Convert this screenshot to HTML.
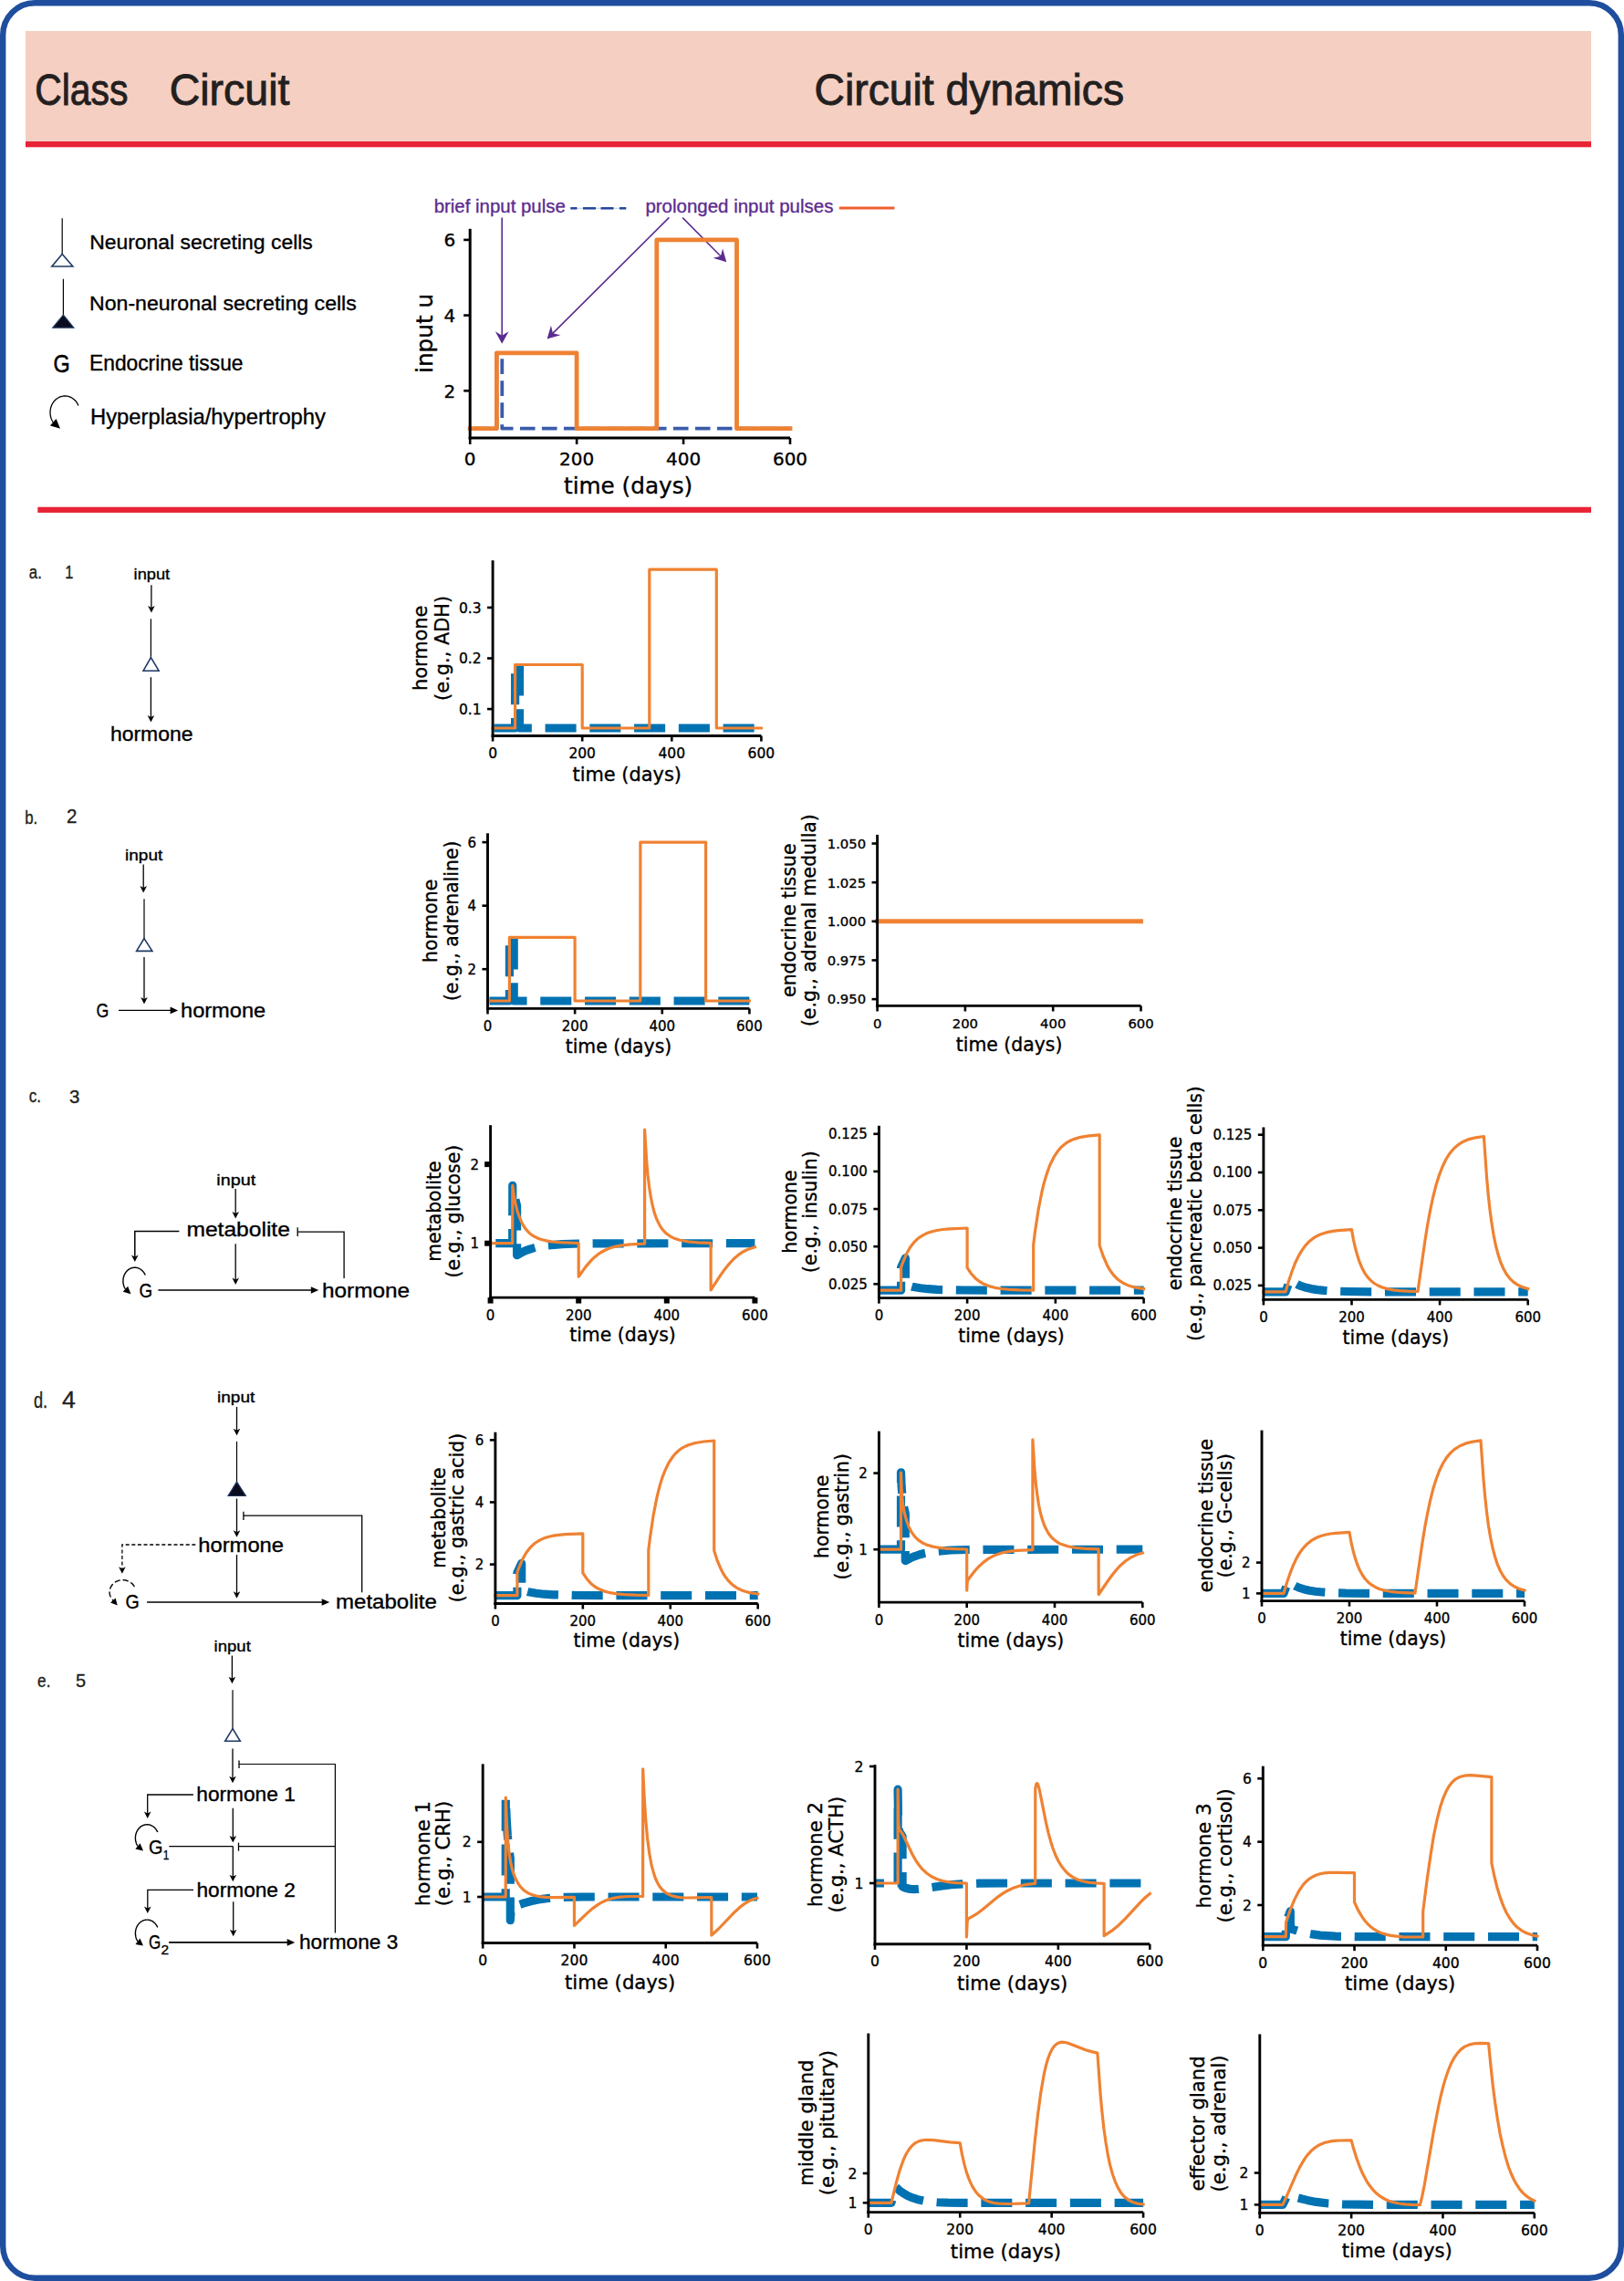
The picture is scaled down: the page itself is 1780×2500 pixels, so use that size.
<!DOCTYPE html>
<html><head><meta charset="utf-8"><title>Endocrine circuit dynamics</title>
<style>html,body{margin:0;padding:0;background:#fff;} svg{display:block;}</style></head>
<body><svg width="1780" height="2500" viewBox="0 0 1780 2500">
<rect width="1780" height="2500" fill="#fff"/>
<rect x="28" y="34" width="1716" height="121.5" fill="#F5CFC2"/>
<rect x="28" y="155" width="1716" height="6.3" fill="#E82336"/>
<text x="38.2" y="114.7" font-family="'Liberation Sans', 'DejaVu Sans', sans-serif" font-size="47.5" fill="#231F20" textLength="102.3" lengthAdjust="spacingAndGlyphs" stroke="#231F20" stroke-width="0.9">Class</text>
<text x="185.7" y="114.7" font-family="'Liberation Sans', 'DejaVu Sans', sans-serif" font-size="47.5" fill="#231F20" textLength="131.8" lengthAdjust="spacingAndGlyphs" stroke="#231F20" stroke-width="0.9">Circuit</text>
<text x="892.5" y="114.7" font-family="'Liberation Sans', 'DejaVu Sans', sans-serif" font-size="47.5" fill="#231F20" textLength="339.6" lengthAdjust="spacingAndGlyphs" stroke="#231F20" stroke-width="0.9">Circuit dynamics</text>
<rect x="41.3" y="555.7" width="1702.7" height="6.2" fill="#E82336"/>
<line x1="68.2" y1="239.2" x2="68.2" y2="279" stroke="#000" stroke-width="1.2"/>
<polygon points="68.2,278.4 79.8,292 56.8,292" fill="#fff" stroke="#1F3864" stroke-width="1.6"/>
<text x="98.2" y="273.4" font-family="'Liberation Sans', 'DejaVu Sans', sans-serif" font-size="22.8" fill="#000" textLength="244.6" lengthAdjust="spacingAndGlyphs" stroke="#000" stroke-width="0.35">Neuronal secreting cells</text>
<line x1="69.4" y1="305.7" x2="69.4" y2="346" stroke="#000" stroke-width="1.2"/>
<polygon points="69.4,345.2 80.8,359.2 57.8,359.2" fill="#0B0B1E" stroke="#1F3864" stroke-width="1.2"/>
<text x="98" y="340" font-family="'Liberation Sans', 'DejaVu Sans', sans-serif" font-size="22.8" fill="#000" textLength="292.8" lengthAdjust="spacingAndGlyphs" stroke="#000" stroke-width="0.35">Non-neuronal secreting cells</text>
<text x="58.6" y="408.4" font-family="'Liberation Sans', 'DejaVu Sans', sans-serif" font-size="27.6" fill="#000" textLength="18.2" lengthAdjust="spacingAndGlyphs" stroke="#000" stroke-width="0.5">G</text>
<text x="98" y="406" font-family="'Liberation Sans', 'DejaVu Sans', sans-serif" font-size="23.6" fill="#000" textLength="168.5" lengthAdjust="spacingAndGlyphs" stroke="#000" stroke-width="0.35">Endocrine tissue</text>
<polyline points="85.89,444.42 85.38,443.3 84.8,442.22 84.15,441.19 83.44,440.21 82.68,439.29 81.85,438.44 80.97,437.64 80.05,436.92 79.08,436.27 78.07,435.7 77.03,435.21 75.96,434.8 74.87,434.47 73.76,434.23 72.64,434.07 71.51,434 70.38,434.02 69.25,434.13 68.14,434.32 67.03,434.61 65.95,434.97 64.9,435.42 63.87,435.95 62.88,436.55 61.93,437.24 61.03,437.99 60.17,438.81 59.37,439.7 58.63,440.65 57.95,441.65 57.33,442.7 56.78,443.8 56.3,444.94 55.89,446.11 55.56,447.31 55.3,448.53 55.12,449.78 55.02,451.03 55,452.28 55.06,453.54 55.2,454.78 55.41,456.02 55.7,457.23 56.07,458.42 56.51,459.58 57.02,460.7 57.6,461.78 58.25,462.81" fill="none" stroke="#000" stroke-width="1.3"/>
<polygon points="66,469.7 54.92,466.54 61.57,459.07" fill="#000"/>
<text x="99" y="465" font-family="'Liberation Sans', 'DejaVu Sans', sans-serif" font-size="24.6" fill="#000" textLength="258" lengthAdjust="spacingAndGlyphs" stroke="#000" stroke-width="0.35">Hyperplasia/hypertrophy</text>
<text x="475.7" y="232.9" font-family="'Liberation Sans', 'DejaVu Sans', sans-serif" font-size="21" fill="#5B2C8F" textLength="144.1" lengthAdjust="spacingAndGlyphs" stroke="#5B2C8F" stroke-width="0.35">brief input pulse</text>
<line x1="625.3" y1="228.3" x2="686.3" y2="228.3" stroke="#A9B9DC" stroke-width="0.7"/>
<line x1="625.3" y1="228.3" x2="632.5" y2="228.3" stroke="#22449A" stroke-width="2.5"/>
<line x1="639" y1="228.3" x2="653" y2="228.3" stroke="#22449A" stroke-width="2.5"/>
<line x1="658.5" y1="228.3" x2="672.5" y2="228.3" stroke="#22449A" stroke-width="2.5"/>
<line x1="679" y1="228.3" x2="686.3" y2="228.3" stroke="#22449A" stroke-width="2.5"/>
<text x="707.4" y="232.9" font-family="'Liberation Sans', 'DejaVu Sans', sans-serif" font-size="21" fill="#5B2C8F" textLength="206" lengthAdjust="spacingAndGlyphs" stroke="#5B2C8F" stroke-width="0.35">prolonged input pulses</text>
<line x1="919.8" y1="228.1" x2="980.4" y2="228.1" stroke="#EF6030" stroke-width="3"/>
<line x1="550.2" y1="238.4" x2="550.2" y2="368.7" stroke="#5B2C8F" stroke-width="1.6"/>
<polygon points="550.2,376.8 542.8,363.3 550.2,367.8 557.6,363.3" fill="#5B2C8F"/>
<line x1="733.4" y1="238.4" x2="605.34" y2="365.89" stroke="#5B2C8F" stroke-width="1.6"/>
<polygon points="599.6,371.6 603.95,356.83 605.98,365.25 614.39,367.32" fill="#5B2C8F"/>
<line x1="748.2" y1="238.6" x2="790.6" y2="281.44" stroke="#5B2C8F" stroke-width="1.6"/>
<polygon points="796.3,287.2 781.54,282.81 789.97,280.8 792.06,272.4" fill="#5B2C8F"/>
<text x="31.8" y="634" font-family="'Liberation Sans', 'DejaVu Sans', sans-serif" font-size="19.5" fill="#231F20" textLength="14" lengthAdjust="spacingAndGlyphs" stroke="#231F20" stroke-width="0.35">a.</text>
<text x="71.2" y="634" font-family="'Liberation Sans', 'DejaVu Sans', sans-serif" font-size="20.5" fill="#231F20" textLength="9.1" lengthAdjust="spacingAndGlyphs" stroke="#231F20" stroke-width="0.35">1</text>
<text x="27.2" y="903.1" font-family="'Liberation Sans', 'DejaVu Sans', sans-serif" font-size="19.5" fill="#231F20" textLength="14" lengthAdjust="spacingAndGlyphs" stroke="#231F20" stroke-width="0.35">b.</text>
<text x="72.9" y="901.5" font-family="'Liberation Sans', 'DejaVu Sans', sans-serif" font-size="21.5" fill="#231F20" textLength="11.4" lengthAdjust="spacingAndGlyphs" stroke="#231F20" stroke-width="0.35">2</text>
<text x="31.7" y="1207.7" font-family="'Liberation Sans', 'DejaVu Sans', sans-serif" font-size="19.5" fill="#231F20" textLength="13.3" lengthAdjust="spacingAndGlyphs" stroke="#231F20" stroke-width="0.35">c.</text>
<text x="75.9" y="1209.1" font-family="'Liberation Sans', 'DejaVu Sans', sans-serif" font-size="20.6" fill="#231F20" textLength="11.4" lengthAdjust="spacingAndGlyphs" stroke="#231F20" stroke-width="0.35">3</text>
<text x="36.9" y="1542.9" font-family="'Liberation Sans', 'DejaVu Sans', sans-serif" font-size="23" fill="#231F20" textLength="15.2" lengthAdjust="spacingAndGlyphs" stroke="#231F20" stroke-width="0.35">d.</text>
<text x="68" y="1542.9" font-family="'Liberation Sans', 'DejaVu Sans', sans-serif" font-size="25.9" fill="#231F20" textLength="14.8" lengthAdjust="spacingAndGlyphs" stroke="#231F20" stroke-width="0.35">4</text>
<text x="41.1" y="1848.8" font-family="'Liberation Sans', 'DejaVu Sans', sans-serif" font-size="19.5" fill="#231F20" textLength="14.3" lengthAdjust="spacingAndGlyphs" stroke="#231F20" stroke-width="0.35">e.</text>
<text x="83" y="1848.8" font-family="'Liberation Sans', 'DejaVu Sans', sans-serif" font-size="21" fill="#231F20" textLength="11.1" lengthAdjust="spacingAndGlyphs" stroke="#231F20" stroke-width="0.35">5</text>
<text x="146.6" y="635.1" font-family="'Liberation Sans', 'DejaVu Sans', sans-serif" font-size="17" fill="#000" textLength="39.6" lengthAdjust="spacingAndGlyphs" stroke="#000" stroke-width="0.35">input</text>
<line x1="165.9" y1="641.3" x2="165.9" y2="666.45" stroke="#000" stroke-width="1.3"/>
<polygon points="165.9,671.4 162.1,663.9 165.9,665.9 169.7,663.9" fill="#000"/>
<line x1="165.4" y1="678.2" x2="165.4" y2="721" stroke="#000" stroke-width="1.2"/>
<polygon points="165.4,720.7 174.1,735.2 157.1,735.2" fill="#fff" stroke="#1F3864" stroke-width="1.6"/>
<line x1="165.4" y1="742.2" x2="165.4" y2="786.55" stroke="#000" stroke-width="1.3"/>
<polygon points="165.4,791.5 161.6,784 165.4,786 169.2,784" fill="#000"/>
<text x="120.9" y="811.8" font-family="'Liberation Sans', 'DejaVu Sans', sans-serif" font-size="22" fill="#000" textLength="90.6" lengthAdjust="spacingAndGlyphs" stroke="#000" stroke-width="0.35">hormone</text>
<text x="137" y="942.9" font-family="'Liberation Sans', 'DejaVu Sans', sans-serif" font-size="17" fill="#000" textLength="41.3" lengthAdjust="spacingAndGlyphs" stroke="#000" stroke-width="0.35">input</text>
<line x1="157.2" y1="947.4" x2="157.2" y2="973.45" stroke="#000" stroke-width="1.3"/>
<polygon points="157.2,978.4 153.4,970.9 157.2,972.9 161,970.9" fill="#000"/>
<line x1="158" y1="985.3" x2="158" y2="1029" stroke="#000" stroke-width="1.2"/>
<polygon points="158,1028.6 166.9,1042.4 149.6,1042.4" fill="#fff" stroke="#1F3864" stroke-width="1.6"/>
<line x1="158" y1="1048.9" x2="158" y2="1095.55" stroke="#000" stroke-width="1.3"/>
<polygon points="158,1100.5 154.2,1093 158,1095 161.8,1093" fill="#000"/>
<text x="105.4" y="1114.9" font-family="'Liberation Sans', 'DejaVu Sans', sans-serif" font-size="22" fill="#000" textLength="13.8" lengthAdjust="spacingAndGlyphs" stroke="#000" stroke-width="0.35">G</text>
<line x1="130" y1="1107.4" x2="187.45" y2="1107.4" stroke="#000" stroke-width="1.3"/>
<polygon points="195.1,1107.4 186.6,1111.2 186.6,1107.4 186.6,1103.6" fill="#000"/>
<text x="198" y="1114.9" font-family="'Liberation Sans', 'DejaVu Sans', sans-serif" font-size="22" fill="#000" textLength="93.2" lengthAdjust="spacingAndGlyphs" stroke="#000" stroke-width="0.35">hormone</text>
<text x="237.3" y="1298.8" font-family="'Liberation Sans', 'DejaVu Sans', sans-serif" font-size="17" fill="#000" textLength="42.9" lengthAdjust="spacingAndGlyphs" stroke="#000" stroke-width="0.35">input</text>
<line x1="258.2" y1="1303" x2="258.2" y2="1330.55" stroke="#000" stroke-width="1.3"/>
<polygon points="258.2,1335.5 254.4,1328 258.2,1330 262,1328" fill="#000"/>
<text x="204.4" y="1355.4" font-family="'Liberation Sans', 'DejaVu Sans', sans-serif" font-size="22" fill="#000" textLength="113.5" lengthAdjust="spacingAndGlyphs" stroke="#000" stroke-width="0.35">metabolite</text>
<line x1="326.2" y1="1345.3" x2="326.2" y2="1355" stroke="#000" stroke-width="1.3"/>
<polyline points="326.2,1350.1 377.1,1350.1 377.1,1401" fill="none" stroke="#000" stroke-width="1.3"/>
<polyline points="196.4,1349.5 147.8,1349.5 147.8,1378" fill="none" stroke="#000" stroke-width="1.5"/>
<polygon points="147.8,1383 144,1375.5 147.8,1377.5 151.6,1375.5" fill="#000"/>
<line x1="258.2" y1="1363.3" x2="258.2" y2="1403.15" stroke="#000" stroke-width="1.3"/>
<polygon points="258.2,1408.1 254.4,1400.6 258.2,1402.6 262,1400.6" fill="#000"/>
<polyline points="159.23,1397.58 158.82,1396.67 158.35,1395.8 157.84,1394.96 157.27,1394.17 156.65,1393.42 156,1392.73 155.3,1392.09 154.57,1391.51 153.8,1390.99 153.01,1390.53 152.18,1390.14 151.34,1389.81 150.48,1389.55 149.61,1389.36 148.72,1389.25 147.83,1389.2 146.95,1389.23 146.06,1389.32 145.18,1389.49 144.32,1389.73 143.47,1390.03 142.64,1390.41 141.84,1390.84 141.06,1391.35 140.32,1391.91 139.61,1392.53 138.94,1393.21 138.31,1393.94 137.73,1394.72 137.2,1395.54 136.71,1396.4 136.28,1397.3 135.91,1398.24 135.59,1399.2 135.33,1400.18 135.13,1401.18 135,1402.2 134.92,1403.22 134.9,1404.25 134.95,1405.28 135.06,1406.3 135.22,1407.31 135.45,1408.3 135.74,1409.27 136.09,1410.22 136.49,1411.14 136.94,1412.02 137.45,1412.87" fill="none" stroke="#000" stroke-width="1.4"/>
<polygon points="143.5,1418.2 134.81,1415.87 140.1,1409.87" fill="#000"/>
<text x="152.5" y="1422.4" font-family="'Liberation Sans', 'DejaVu Sans', sans-serif" font-size="22" fill="#000" textLength="14.6" lengthAdjust="spacingAndGlyphs" stroke="#000" stroke-width="0.35">G</text>
<line x1="173.4" y1="1414" x2="341.65" y2="1414" stroke="#000" stroke-width="1.3"/>
<polygon points="349.3,1414 340.8,1417.8 340.8,1414 340.8,1410.2" fill="#000"/>
<text x="353" y="1422.4" font-family="'Liberation Sans', 'DejaVu Sans', sans-serif" font-size="22" fill="#000" textLength="96.1" lengthAdjust="spacingAndGlyphs" stroke="#000" stroke-width="0.35">hormone</text>
<text x="238" y="1537" font-family="'Liberation Sans', 'DejaVu Sans', sans-serif" font-size="17" fill="#000" textLength="41.3" lengthAdjust="spacingAndGlyphs" stroke="#000" stroke-width="0.35">input</text>
<line x1="259.5" y1="1542" x2="259.5" y2="1568.35" stroke="#000" stroke-width="1.3"/>
<polygon points="259.5,1573.3 255.7,1565.8 259.5,1567.8 263.3,1565.8" fill="#000"/>
<line x1="259.5" y1="1579.8" x2="259.5" y2="1624.5" stroke="#000" stroke-width="1.2"/>
<polygon points="259.5,1624.1 269.4,1639.5 250,1639.5" fill="#0B0B1E" stroke="#1F3864" stroke-width="1.2"/>
<line x1="259.5" y1="1642.5" x2="259.5" y2="1679.75" stroke="#000" stroke-width="1.3"/>
<polygon points="259.5,1684.7 255.7,1677.2 259.5,1679.2 263.3,1677.2" fill="#000"/>
<line x1="266.9" y1="1656.7" x2="266.9" y2="1666.1" stroke="#000" stroke-width="1.3"/>
<polyline points="266.9,1661.1 396.7,1661.1 396.7,1745.3" fill="none" stroke="#000" stroke-width="1.3"/>
<text x="217.3" y="1701" font-family="'Liberation Sans', 'DejaVu Sans', sans-serif" font-size="22" fill="#000" textLength="93.7" lengthAdjust="spacingAndGlyphs" stroke="#000" stroke-width="0.35">hormone</text>
<polyline points="214.3,1693 133.9,1693 133.9,1720" fill="none" stroke="#000" stroke-width="1.3" stroke-dasharray="4 2.6"/>
<polygon points="133.9,1724.7 130.1,1717.2 133.9,1719.2 137.7,1717.2" fill="#000"/>
<polyline points="147.13,1738.61 146.61,1737.81 146.04,1737.04 145.4,1736.31 144.71,1735.62 143.97,1734.98 143.19,1734.39 142.36,1733.85 141.49,1733.37 140.59,1732.95 139.65,1732.58 138.69,1732.28 137.71,1732.04 136.72,1731.86 135.71,1731.75 134.7,1731.7 133.69,1731.72 132.68,1731.81 131.68,1731.96 130.69,1732.17 129.72,1732.45 128.78,1732.79 127.87,1733.2 126.98,1733.66 126.14,1734.17 125.33,1734.74 124.58,1735.36 123.87,1736.03 123.21,1736.74 122.61,1737.5 122.07,1738.29 121.59,1739.11 121.17,1739.97 120.82,1740.85 120.54,1741.74 120.32,1742.66 120.18,1743.59 120.11,1744.52 120.11,1745.46 120.18,1746.39 120.32,1747.32 120.53,1748.23 120.81,1749.13 121.16,1750.01 121.58,1750.87 122.05,1751.69 122.59,1752.48 123.19,1753.24 123.85,1753.95" fill="none" stroke="#000" stroke-width="1.4" stroke-dasharray="5.2 4" stroke-linecap="round"/>
<polygon points="128.7,1759.5 121.06,1756.39 126.63,1751.52" fill="#000"/>
<text x="137.5" y="1763" font-family="'Liberation Sans', 'DejaVu Sans', sans-serif" font-size="22" fill="#000" textLength="15.3" lengthAdjust="spacingAndGlyphs" stroke="#000" stroke-width="0.35">G</text>
<line x1="259.5" y1="1704" x2="259.5" y2="1746.85" stroke="#000" stroke-width="1.3"/>
<polygon points="259.5,1751.8 255.7,1744.3 259.5,1746.3 263.3,1744.3" fill="#000"/>
<line x1="161.1" y1="1756" x2="353.55" y2="1756" stroke="#000" stroke-width="1.3"/>
<polygon points="361.2,1756 352.7,1759.8 352.7,1756 352.7,1752.2" fill="#000"/>
<text x="368" y="1763" font-family="'Liberation Sans', 'DejaVu Sans', sans-serif" font-size="22" fill="#000" textLength="110.9" lengthAdjust="spacingAndGlyphs" stroke="#000" stroke-width="0.35">metabolite</text>
<text x="234.6" y="1809.7" font-family="'Liberation Sans', 'DejaVu Sans', sans-serif" font-size="17" fill="#000" textLength="40.2" lengthAdjust="spacingAndGlyphs" stroke="#000" stroke-width="0.35">input</text>
<line x1="254.4" y1="1814.6" x2="254.4" y2="1840.25" stroke="#000" stroke-width="1.3"/>
<polygon points="254.4,1845.2 250.6,1837.7 254.4,1839.7 258.2,1837.7" fill="#000"/>
<line x1="255" y1="1852.2" x2="255" y2="1895" stroke="#000" stroke-width="1.2"/>
<polygon points="255,1894.7 263.3,1908.3 246.7,1908.3" fill="#fff" stroke="#1F3864" stroke-width="1.6"/>
<line x1="255" y1="1916.5" x2="255" y2="1949.25" stroke="#000" stroke-width="1.3"/>
<polygon points="255,1954.2 251.2,1946.7 255,1948.7 258.8,1946.7" fill="#000"/>
<line x1="262" y1="1929.6" x2="262" y2="1938" stroke="#000" stroke-width="1.3"/>
<polyline points="262,1933.5 367.4,1933.5 367.4,2118.5" fill="none" stroke="#000" stroke-width="1.2"/>
<text x="215.3" y="1973.5" font-family="'Liberation Sans', 'DejaVu Sans', sans-serif" font-size="22" fill="#000" textLength="108.5" lengthAdjust="spacingAndGlyphs" stroke="#000" stroke-width="0.35">hormone 1</text>
<polyline points="211.9,1967 161.7,1967 161.7,1988" fill="none" stroke="#000" stroke-width="1.3"/>
<polygon points="161.7,1993 157.9,1985.5 161.7,1987.5 165.5,1985.5" fill="#000"/>
<polyline points="172.73,2008.08 172.32,2007.17 171.85,2006.3 171.34,2005.46 170.77,2004.67 170.15,2003.92 169.5,2003.23 168.8,2002.59 168.07,2002.01 167.3,2001.49 166.51,2001.03 165.68,2000.64 164.84,2000.31 163.98,2000.05 163.11,1999.86 162.22,1999.75 161.33,1999.7 160.45,1999.73 159.56,1999.82 158.68,1999.99 157.82,2000.23 156.97,2000.53 156.14,2000.91 155.34,2001.34 154.56,2001.85 153.82,2002.41 153.11,2003.03 152.44,2003.71 151.81,2004.44 151.23,2005.22 150.7,2006.04 150.21,2006.9 149.78,2007.8 149.41,2008.74 149.09,2009.7 148.83,2010.68 148.63,2011.68 148.5,2012.7 148.42,2013.72 148.4,2014.75 148.45,2015.78 148.56,2016.8 148.72,2017.81 148.95,2018.8 149.24,2019.77 149.59,2020.72 149.99,2021.64 150.44,2022.52 150.95,2023.37" fill="none" stroke="#000" stroke-width="1.4"/>
<polygon points="157,2028.5 148.36,2026.42 153.54,2020.32" fill="#000"/>
<text x="163.1" y="2032.1" font-family="'Liberation Sans', 'DejaVu Sans', sans-serif" font-size="22" fill="#000" textLength="15.5" lengthAdjust="spacingAndGlyphs" stroke="#000" stroke-width="0.35">G</text>
<text x="178.8" y="2037.8" font-family="'Liberation Sans', 'DejaVu Sans', sans-serif" font-size="15" fill="#000" textLength="6.6" lengthAdjust="spacingAndGlyphs" stroke="#000" stroke-width="0.35">1</text>
<polyline points="185.3,2023.6 255.3,2023.6" fill="none" stroke="#000" stroke-width="1.2"/>
<line x1="255.3" y1="1981.7" x2="255.3" y2="2014.65" stroke="#000" stroke-width="1.3"/>
<polygon points="255.3,2019.6 251.5,2012.1 255.3,2014.1 259.1,2012.1" fill="#000"/>
<line x1="255.3" y1="2023.6" x2="255.3" y2="2057.25" stroke="#000" stroke-width="1.3"/>
<polygon points="255.3,2062.2 251.5,2054.7 255.3,2056.7 259.1,2054.7" fill="#000"/>
<line x1="261.5" y1="2019.6" x2="261.5" y2="2028.7" stroke="#000" stroke-width="1.3"/>
<line x1="261.5" y1="2023.6" x2="367.4" y2="2023.6" stroke="#000" stroke-width="1.2"/>
<text x="215.5" y="2078.5" font-family="'Liberation Sans', 'DejaVu Sans', sans-serif" font-size="22" fill="#000" textLength="108.4" lengthAdjust="spacingAndGlyphs" stroke="#000" stroke-width="0.35">hormone 2</text>
<polyline points="212,2071.4 161.8,2071.4 161.8,2092" fill="none" stroke="#000" stroke-width="1.3"/>
<polygon points="161.8,2097.1 158,2089.6 161.8,2091.6 165.6,2089.6" fill="#000"/>
<polyline points="172.73,2112.48 172.32,2111.57 171.85,2110.7 171.34,2109.86 170.77,2109.07 170.15,2108.32 169.5,2107.63 168.8,2106.99 168.07,2106.41 167.3,2105.89 166.51,2105.43 165.68,2105.04 164.84,2104.71 163.98,2104.45 163.11,2104.26 162.22,2104.15 161.33,2104.1 160.45,2104.13 159.56,2104.22 158.68,2104.39 157.82,2104.63 156.97,2104.93 156.14,2105.31 155.34,2105.74 154.56,2106.25 153.82,2106.81 153.11,2107.43 152.44,2108.11 151.81,2108.84 151.23,2109.62 150.7,2110.44 150.21,2111.3 149.78,2112.2 149.41,2113.14 149.09,2114.1 148.83,2115.08 148.63,2116.08 148.5,2117.1 148.42,2118.12 148.4,2119.15 148.45,2120.18 148.56,2121.2 148.72,2122.21 148.95,2123.2 149.24,2124.17 149.59,2125.12 149.99,2126.04 150.44,2126.92 150.95,2127.77" fill="none" stroke="#000" stroke-width="1.4"/>
<polygon points="157,2132.5 148.49,2130.92 153.42,2124.62" fill="#000"/>
<text x="163.1" y="2136.4" font-family="'Liberation Sans', 'DejaVu Sans', sans-serif" font-size="22" fill="#000" textLength="13.3" lengthAdjust="spacingAndGlyphs" stroke="#000" stroke-width="0.35">G</text>
<text x="176.4" y="2142" font-family="'Liberation Sans', 'DejaVu Sans', sans-serif" font-size="15" fill="#000" textLength="8.6" lengthAdjust="spacingAndGlyphs" stroke="#000" stroke-width="0.35">2</text>
<line x1="255.7" y1="2084.3" x2="255.7" y2="2117.35" stroke="#000" stroke-width="1.3"/>
<polygon points="255.7,2122.3 251.9,2114.8 255.7,2116.8 259.5,2114.8" fill="#000"/>
<line x1="185.1" y1="2128.9" x2="315.55" y2="2128.9" stroke="#000" stroke-width="1.8"/>
<polygon points="323.2,2128.9 314.7,2132.7 314.7,2128.9 314.7,2125.1" fill="#000"/>
<text x="328" y="2136.4" font-family="'Liberation Sans', 'DejaVu Sans', sans-serif" font-size="22" fill="#000" textLength="108.3" lengthAdjust="spacingAndGlyphs" stroke="#000" stroke-width="0.35">hormone 3</text>
<g>
<clipPath id="pa"><rect x="536.1" y="612.2" width="302.3" height="194.3"/></clipPath>
<g clip-path="url(#pa)" fill="none" stroke-linejoin="round">
<path d="M540.1,798.0 L564.6,798.0 L564.6,728.5 L569.5,728.5 L569.5,798.0 L834.4,798.0" stroke="#0072B2" stroke-width="9.2" stroke-dasharray="34.04 14.72" stroke-dashoffset="47.33" stroke-linecap="butt"/>
<path d="M540.1,798.0 L564.6,798.0 L564.6,728.5 L638.2,728.5 L638.2,798.0 L711.8,798.0 L711.8,624.2 L785.3,624.2 L785.3,798.0 L834.4,798.0" stroke="#EF8232" stroke-width="3.2" stroke-linecap="square"/>
</g>
<line x1="540.1" y1="614.2" x2="540.1" y2="807.95" stroke="#000" stroke-width="2.9" stroke-linecap="butt"/>
<line x1="538.65" y1="806.5" x2="834.4" y2="806.5" stroke="#000" stroke-width="2.9"/>
<line x1="540.1" y1="806.5" x2="540.1" y2="812.55" stroke="#000" stroke-width="2.6"/>
<text x="540.1" y="830.5" font-family="'DejaVu Sans', 'Liberation Sans', sans-serif" font-size="15.5" fill="#000" text-anchor="middle" stroke="#000" stroke-width="0.35">0</text>
<line x1="638.2" y1="806.5" x2="638.2" y2="812.55" stroke="#000" stroke-width="2.6"/>
<text x="638.2" y="830.5" font-family="'DejaVu Sans', 'Liberation Sans', sans-serif" font-size="15.5" fill="#000" text-anchor="middle" stroke="#000" stroke-width="0.35">200</text>
<line x1="736.3" y1="806.5" x2="736.3" y2="812.55" stroke="#000" stroke-width="2.6"/>
<text x="736.3" y="830.5" font-family="'DejaVu Sans', 'Liberation Sans', sans-serif" font-size="15.5" fill="#000" text-anchor="middle" stroke="#000" stroke-width="0.35">400</text>
<line x1="834.4" y1="806.5" x2="834.4" y2="812.55" stroke="#000" stroke-width="2.6"/>
<text x="834.4" y="830.5" font-family="'DejaVu Sans', 'Liberation Sans', sans-serif" font-size="15.5" fill="#000" text-anchor="middle" stroke="#000" stroke-width="0.35">600</text>
<line x1="534.05" y1="777.1" x2="540.1" y2="777.1" stroke="#000" stroke-width="2.6"/>
<text x="527.6" y="782.74" font-family="'DejaVu Sans', 'Liberation Sans', sans-serif" font-size="15.5" fill="#000" text-anchor="end" stroke="#000" stroke-width="0.35">0.1</text>
<line x1="534.05" y1="721.5" x2="540.1" y2="721.5" stroke="#000" stroke-width="2.6"/>
<text x="527.6" y="727.14" font-family="'DejaVu Sans', 'Liberation Sans', sans-serif" font-size="15.5" fill="#000" text-anchor="end" stroke="#000" stroke-width="0.35">0.2</text>
<line x1="534.05" y1="665.9" x2="540.1" y2="665.9" stroke="#000" stroke-width="2.6"/>
<text x="527.6" y="671.54" font-family="'DejaVu Sans', 'Liberation Sans', sans-serif" font-size="15.5" fill="#000" text-anchor="end" stroke="#000" stroke-width="0.35">0.3</text>
<text x="687.25" y="856" font-family="'DejaVu Sans', 'Liberation Sans', sans-serif" font-size="20.9" fill="#000" text-anchor="middle" stroke="#000" stroke-width="0.35">time (days)</text>
<text transform="translate(468,710.35) rotate(-90)" x="0" y="0" font-family="'DejaVu Sans', 'Liberation Sans', sans-serif" font-size="20.9" stroke="#000" stroke-width="0.35" text-anchor="middle">hormone</text>
<text transform="translate(491.7,710.35) rotate(-90)" x="0" y="0" font-family="'DejaVu Sans', 'Liberation Sans', sans-serif" font-size="20.9" stroke="#000" stroke-width="0.35" text-anchor="middle">(e.g., ADH)</text>
</g>
<g>
<clipPath id="pb1"><rect x="530.5" y="911.3" width="294.9" height="194.1"/></clipPath>
<g clip-path="url(#pb1)" fill="none" stroke-linejoin="round">
<path d="M534.5,1097.0 L558.4,1097.0 L558.4,1027.4 L563.2,1027.4 L563.2,1097.0 L821.4,1097.0" stroke="#0072B2" stroke-width="9.2" stroke-dasharray="34.04 14.72" stroke-dashoffset="46.83" stroke-linecap="butt"/>
<path d="M534.5,1097.0 L558.4,1097.0 L558.4,1027.4 L630.1,1027.4 L630.1,1097.0 L701.8,1097.0 L701.9,923.1 L773.6,923.1 L773.6,1097.0 L821.4,1097.0" stroke="#EF8232" stroke-width="3.2" stroke-linecap="square"/>
</g>
<line x1="534.5" y1="913.3" x2="534.5" y2="1106.85" stroke="#000" stroke-width="2.9" stroke-linecap="butt"/>
<line x1="533.05" y1="1105.4" x2="821.4" y2="1105.4" stroke="#000" stroke-width="2.9"/>
<line x1="534.5" y1="1105.4" x2="534.5" y2="1111.45" stroke="#000" stroke-width="2.6"/>
<text x="534.5" y="1129.8" font-family="'DejaVu Sans', 'Liberation Sans', sans-serif" font-size="15" fill="#000" text-anchor="middle" stroke="#000" stroke-width="0.35">0</text>
<line x1="630.13" y1="1105.4" x2="630.13" y2="1111.45" stroke="#000" stroke-width="2.6"/>
<text x="630.13" y="1129.8" font-family="'DejaVu Sans', 'Liberation Sans', sans-serif" font-size="15" fill="#000" text-anchor="middle" stroke="#000" stroke-width="0.35">200</text>
<line x1="725.77" y1="1105.4" x2="725.77" y2="1111.45" stroke="#000" stroke-width="2.6"/>
<text x="725.77" y="1129.8" font-family="'DejaVu Sans', 'Liberation Sans', sans-serif" font-size="15" fill="#000" text-anchor="middle" stroke="#000" stroke-width="0.35">400</text>
<line x1="821.4" y1="1105.4" x2="821.4" y2="1111.45" stroke="#000" stroke-width="2.6"/>
<text x="821.4" y="1129.8" font-family="'DejaVu Sans', 'Liberation Sans', sans-serif" font-size="15" fill="#000" text-anchor="middle" stroke="#000" stroke-width="0.35">600</text>
<line x1="528.45" y1="1062.2" x2="534.5" y2="1062.2" stroke="#000" stroke-width="2.6"/>
<text x="522" y="1067.66" font-family="'DejaVu Sans', 'Liberation Sans', sans-serif" font-size="15" fill="#000" text-anchor="end" stroke="#000" stroke-width="0.35">2</text>
<line x1="528.45" y1="992.65" x2="534.5" y2="992.65" stroke="#000" stroke-width="2.6"/>
<text x="522" y="998.11" font-family="'DejaVu Sans', 'Liberation Sans', sans-serif" font-size="15" fill="#000" text-anchor="end" stroke="#000" stroke-width="0.35">4</text>
<line x1="528.45" y1="923.1" x2="534.5" y2="923.1" stroke="#000" stroke-width="2.6"/>
<text x="522" y="928.56" font-family="'DejaVu Sans', 'Liberation Sans', sans-serif" font-size="15" fill="#000" text-anchor="end" stroke="#000" stroke-width="0.35">6</text>
<text x="677.95" y="1154.3" font-family="'DejaVu Sans', 'Liberation Sans', sans-serif" font-size="20.4" fill="#000" text-anchor="middle" stroke="#000" stroke-width="0.35">time (days)</text>
<text transform="translate(479.1,1009.35) rotate(-90)" x="0" y="0" font-family="'DejaVu Sans', 'Liberation Sans', sans-serif" font-size="20.4" stroke="#000" stroke-width="0.35" text-anchor="middle">hormone</text>
<text transform="translate(502.4,1009.35) rotate(-90)" x="0" y="0" font-family="'DejaVu Sans', 'Liberation Sans', sans-serif" font-size="20.4" stroke="#000" stroke-width="0.35" text-anchor="middle">(e.g., adrenaline)</text>
</g>
<g>
<clipPath id="pb2"><rect x="957.6" y="912.9" width="296.9" height="189.5"/></clipPath>
<g clip-path="url(#pb2)" fill="none" stroke-linejoin="round">
<path d="M961.6,1009.8 L1250.5,1009.8" stroke="#EF8232" stroke-width="4.9" stroke-linecap="square"/>
</g>
<line x1="961.6" y1="914.9" x2="961.6" y2="1103.85" stroke="#000" stroke-width="2.9" stroke-linecap="butt"/>
<line x1="960.15" y1="1102.4" x2="1250.5" y2="1102.4" stroke="#000" stroke-width="2.9"/>
<line x1="961.6" y1="1102.4" x2="961.6" y2="1108.45" stroke="#000" stroke-width="2.6"/>
<text x="961.6" y="1126.8" font-family="'DejaVu Sans', 'Liberation Sans', sans-serif" font-size="14.8" fill="#000" text-anchor="middle" stroke="#000" stroke-width="0.35">0</text>
<line x1="1057.9" y1="1102.4" x2="1057.9" y2="1108.45" stroke="#000" stroke-width="2.6"/>
<text x="1057.9" y="1126.8" font-family="'DejaVu Sans', 'Liberation Sans', sans-serif" font-size="14.8" fill="#000" text-anchor="middle" stroke="#000" stroke-width="0.35">200</text>
<line x1="1154.2" y1="1102.4" x2="1154.2" y2="1108.45" stroke="#000" stroke-width="2.6"/>
<text x="1154.2" y="1126.8" font-family="'DejaVu Sans', 'Liberation Sans', sans-serif" font-size="14.8" fill="#000" text-anchor="middle" stroke="#000" stroke-width="0.35">400</text>
<line x1="1250.5" y1="1102.4" x2="1250.5" y2="1108.45" stroke="#000" stroke-width="2.6"/>
<text x="1250.5" y="1126.8" font-family="'DejaVu Sans', 'Liberation Sans', sans-serif" font-size="14.8" fill="#000" text-anchor="middle" stroke="#000" stroke-width="0.35">600</text>
<line x1="955.55" y1="1095.1" x2="961.6" y2="1095.1" stroke="#000" stroke-width="2.6"/>
<text x="949.1" y="1100.49" font-family="'DejaVu Sans', 'Liberation Sans', sans-serif" font-size="14.8" fill="#000" text-anchor="end" stroke="#000" stroke-width="0.35">0.950</text>
<line x1="955.55" y1="1052.45" x2="961.6" y2="1052.45" stroke="#000" stroke-width="2.6"/>
<text x="949.1" y="1057.84" font-family="'DejaVu Sans', 'Liberation Sans', sans-serif" font-size="14.8" fill="#000" text-anchor="end" stroke="#000" stroke-width="0.35">0.975</text>
<line x1="955.55" y1="1009.8" x2="961.6" y2="1009.8" stroke="#000" stroke-width="2.6"/>
<text x="949.1" y="1015.19" font-family="'DejaVu Sans', 'Liberation Sans', sans-serif" font-size="14.8" fill="#000" text-anchor="end" stroke="#000" stroke-width="0.35">1.000</text>
<line x1="955.55" y1="967.15" x2="961.6" y2="967.15" stroke="#000" stroke-width="2.6"/>
<text x="949.1" y="972.54" font-family="'DejaVu Sans', 'Liberation Sans', sans-serif" font-size="14.8" fill="#000" text-anchor="end" stroke="#000" stroke-width="0.35">1.025</text>
<line x1="955.55" y1="924.5" x2="961.6" y2="924.5" stroke="#000" stroke-width="2.6"/>
<text x="949.1" y="929.89" font-family="'DejaVu Sans', 'Liberation Sans', sans-serif" font-size="14.8" fill="#000" text-anchor="end" stroke="#000" stroke-width="0.35">1.050</text>
<text x="1106.05" y="1151.5" font-family="'DejaVu Sans', 'Liberation Sans', sans-serif" font-size="20.4" fill="#000" text-anchor="middle" stroke="#000" stroke-width="0.35">time (days)</text>
<text transform="translate(871.9,1008.65) rotate(-90)" x="0" y="0" font-family="'DejaVu Sans', 'Liberation Sans', sans-serif" font-size="20.4" stroke="#000" stroke-width="0.35" text-anchor="middle">endocrine tissue</text>
<text transform="translate(893.5,1008.65) rotate(-90)" x="0" y="0" font-family="'DejaVu Sans', 'Liberation Sans', sans-serif" font-size="20.4" stroke="#000" stroke-width="0.35" text-anchor="middle">(e.g., adrenal medulla)</text>
</g>
<g>
<clipPath id="pc1"><rect x="533.6" y="1231.2" width="297.8" height="190.9"/></clipPath>
<g clip-path="url(#pc1)" fill="none" stroke-linejoin="round">
<path d="M537.6,1362.7 L561.7,1362.7 L561.8,1299.3 L564.0,1311.4 L566.6,1321.7 L566.6,1375.7 L571.3,1373.0 L576.2,1370.7 L581.5,1368.8 L587.1,1367.2 L593.2,1365.9 L600.0,1364.9 L616.4,1363.6 L634.1,1363.0 L660.2,1362.8 L827.4,1362.7" stroke="#0072B2" stroke-width="9.2" stroke-dasharray="34.04 14.72" stroke-dashoffset="43.07" stroke-linecap="butt"/>
<path d="M537.6,1362.7 L561.7,1362.7 L561.8,1299.3 L563.2,1309.5 L564.9,1318.5 L566.8,1326.4 L569.0,1333.2 L571.4,1339.0 L574.1,1344.0 L577.1,1348.2 L580.5,1351.7 L584.3,1354.5 L588.5,1356.7 L593.3,1358.5 L598.9,1359.9 L605.3,1361.0 L612.9,1361.7 L634.2,1362.5 L634.2,1399.2 L641.8,1388.6 L648.5,1380.9 L651.9,1377.7 L655.3,1374.9 L658.9,1372.5 L662.6,1370.5 L666.4,1368.7 L670.5,1367.3 L675.0,1366.1 L679.9,1365.1 L691.3,1363.8 L706.6,1363.1 L706.6,1238.1 L708.8,1273.9 L710.1,1288.4 L711.6,1300.9 L713.3,1311.8 L715.2,1321.2 L717.3,1329.4 L719.8,1336.3 L723.3,1343.4 L725.3,1346.4 L727.5,1349.1 L729.9,1351.5 L732.5,1353.5 L735.3,1355.3 L738.4,1356.9 L745.3,1359.2 L753.8,1360.8 L764.5,1361.8 L779.1,1362.4 L779.1,1413.8 L789.1,1398.7 L794.0,1391.7 L799.1,1385.3 L804.0,1380.0 L809.3,1375.4 L814.8,1371.7 L820.8,1368.9 L827.4,1366.7" stroke="#EF8232" stroke-width="3.2" stroke-linecap="square"/>
</g>
<line x1="537.6" y1="1233.2" x2="537.6" y2="1423.55" stroke="#000" stroke-width="2.9" stroke-linecap="butt"/>
<line x1="536.15" y1="1422.1" x2="827.4" y2="1422.1" stroke="#000" stroke-width="2.9"/>
<line x1="537.6" y1="1422.1" x2="537.6" y2="1428.55" stroke="#000" stroke-width="6"/>
<text x="537.6" y="1446.5" font-family="'DejaVu Sans', 'Liberation Sans', sans-serif" font-size="15" fill="#000" text-anchor="middle" stroke="#000" stroke-width="0.35">0</text>
<line x1="634.2" y1="1422.1" x2="634.2" y2="1428.55" stroke="#000" stroke-width="6"/>
<text x="634.2" y="1446.5" font-family="'DejaVu Sans', 'Liberation Sans', sans-serif" font-size="15" fill="#000" text-anchor="middle" stroke="#000" stroke-width="0.35">200</text>
<line x1="730.8" y1="1422.1" x2="730.8" y2="1428.55" stroke="#000" stroke-width="6"/>
<text x="730.8" y="1446.5" font-family="'DejaVu Sans', 'Liberation Sans', sans-serif" font-size="15" fill="#000" text-anchor="middle" stroke="#000" stroke-width="0.35">400</text>
<line x1="827.4" y1="1422.1" x2="827.4" y2="1428.55" stroke="#000" stroke-width="6"/>
<text x="827.4" y="1446.5" font-family="'DejaVu Sans', 'Liberation Sans', sans-serif" font-size="15" fill="#000" text-anchor="middle" stroke="#000" stroke-width="0.35">600</text>
<line x1="531.15" y1="1362.7" x2="537.6" y2="1362.7" stroke="#000" stroke-width="6"/>
<text x="525.1" y="1368.16" font-family="'DejaVu Sans', 'Liberation Sans', sans-serif" font-size="15" fill="#000" text-anchor="end" stroke="#000" stroke-width="0.35">1</text>
<line x1="531.15" y1="1276.1" x2="537.6" y2="1276.1" stroke="#000" stroke-width="6"/>
<text x="525.1" y="1281.56" font-family="'DejaVu Sans', 'Liberation Sans', sans-serif" font-size="15" fill="#000" text-anchor="end" stroke="#000" stroke-width="0.35">2</text>
<text x="682.5" y="1470" font-family="'DejaVu Sans', 'Liberation Sans', sans-serif" font-size="20.4" fill="#000" text-anchor="middle" stroke="#000" stroke-width="0.35">time (days)</text>
<text transform="translate(482.8,1327.65) rotate(-90)" x="0" y="0" font-family="'DejaVu Sans', 'Liberation Sans', sans-serif" font-size="20.4" stroke="#000" stroke-width="0.35" text-anchor="middle">metabolite</text>
<text transform="translate(504,1327.65) rotate(-90)" x="0" y="0" font-family="'DejaVu Sans', 'Liberation Sans', sans-serif" font-size="20.4" stroke="#000" stroke-width="0.35" text-anchor="middle">(e.g., glucose)</text>
</g>
<g>
<clipPath id="pc2"><rect x="959.4" y="1231.8" width="298.2" height="190.8"/></clipPath>
<g clip-path="url(#pc2)" fill="none" stroke-linejoin="round">
<path d="M963.4,1414.2 L987.6,1414.2 L987.6,1389.2 L992.4,1378.8 L992.4,1408.2 L999.9,1410.3 L1008.7,1411.8 L1017.1,1412.7 L1027.1,1413.4 L1055.0,1414.0 L1253.6,1414.2" stroke="#0072B2" stroke-width="9.2" stroke-dasharray="34.04 14.72" stroke-dashoffset="0.31" stroke-linecap="butt"/>
<path d="M963.4,1414.2 L987.6,1414.2 L987.6,1389.2 L988.8,1385.6 L993.0,1375.5 L995.2,1371.2 L997.5,1367.3 L1000.0,1363.9 L1002.6,1360.8 L1005.4,1358.1 L1008.4,1355.8 L1012.4,1353.4 L1016.8,1351.3 L1021.7,1349.7 L1027.1,1348.5 L1033.3,1347.5 L1040.6,1346.8 L1060.1,1346.0 L1060.1,1389.3 L1064.3,1395.7 L1069.0,1400.9 L1073.5,1404.5 L1078.4,1407.3 L1084.0,1409.6 L1090.5,1411.3 L1097.8,1412.5 L1106.7,1413.3 L1117.7,1413.8 L1132.7,1414.1 L1132.7,1364.2 L1134.5,1349.7 L1138.1,1326.0 L1142.0,1306.2 L1144.0,1297.6 L1146.3,1289.8 L1148.6,1282.8 L1151.0,1276.5 L1155.1,1268.2 L1159.6,1261.4 L1162.0,1258.5 L1164.7,1255.9 L1167.4,1253.7 L1170.4,1251.7 L1173.5,1250.0 L1176.8,1248.6 L1184.4,1246.3 L1193.6,1244.8 L1205.2,1243.9 L1205.2,1364.9 L1209.1,1376.5 L1213.3,1386.2 L1215.5,1390.3 L1217.9,1394.0 L1220.4,1397.3 L1223.1,1400.2 L1225.9,1402.7 L1229.0,1404.9 L1232.2,1406.8 L1235.7,1408.4 L1239.5,1409.8 L1243.7,1410.9 L1253.6,1412.6" stroke="#EF8232" stroke-width="3.2" stroke-linecap="square"/>
</g>
<line x1="963.4" y1="1233.8" x2="963.4" y2="1424.05" stroke="#000" stroke-width="2.9" stroke-linecap="butt"/>
<line x1="961.95" y1="1422.6" x2="1253.6" y2="1422.6" stroke="#000" stroke-width="2.9"/>
<line x1="963.4" y1="1422.6" x2="963.4" y2="1428.65" stroke="#000" stroke-width="2.6"/>
<text x="963.4" y="1447" font-family="'DejaVu Sans', 'Liberation Sans', sans-serif" font-size="15" fill="#000" text-anchor="middle" stroke="#000" stroke-width="0.35">0</text>
<line x1="1060.13" y1="1422.6" x2="1060.13" y2="1428.65" stroke="#000" stroke-width="2.6"/>
<text x="1060.13" y="1447" font-family="'DejaVu Sans', 'Liberation Sans', sans-serif" font-size="15" fill="#000" text-anchor="middle" stroke="#000" stroke-width="0.35">200</text>
<line x1="1156.87" y1="1422.6" x2="1156.87" y2="1428.65" stroke="#000" stroke-width="2.6"/>
<text x="1156.87" y="1447" font-family="'DejaVu Sans', 'Liberation Sans', sans-serif" font-size="15" fill="#000" text-anchor="middle" stroke="#000" stroke-width="0.35">400</text>
<line x1="1253.6" y1="1422.6" x2="1253.6" y2="1428.65" stroke="#000" stroke-width="2.6"/>
<text x="1253.6" y="1447" font-family="'DejaVu Sans', 'Liberation Sans', sans-serif" font-size="15" fill="#000" text-anchor="middle" stroke="#000" stroke-width="0.35">600</text>
<line x1="957.35" y1="1407.3" x2="963.4" y2="1407.3" stroke="#000" stroke-width="2.6"/>
<text x="950.9" y="1412.76" font-family="'DejaVu Sans', 'Liberation Sans', sans-serif" font-size="15" fill="#000" text-anchor="end" stroke="#000" stroke-width="0.35">0.025</text>
<line x1="957.35" y1="1366.17" x2="963.4" y2="1366.17" stroke="#000" stroke-width="2.6"/>
<text x="950.9" y="1371.63" font-family="'DejaVu Sans', 'Liberation Sans', sans-serif" font-size="15" fill="#000" text-anchor="end" stroke="#000" stroke-width="0.35">0.050</text>
<line x1="957.35" y1="1325.05" x2="963.4" y2="1325.05" stroke="#000" stroke-width="2.6"/>
<text x="950.9" y="1330.51" font-family="'DejaVu Sans', 'Liberation Sans', sans-serif" font-size="15" fill="#000" text-anchor="end" stroke="#000" stroke-width="0.35">0.075</text>
<line x1="957.35" y1="1283.92" x2="963.4" y2="1283.92" stroke="#000" stroke-width="2.6"/>
<text x="950.9" y="1289.38" font-family="'DejaVu Sans', 'Liberation Sans', sans-serif" font-size="15" fill="#000" text-anchor="end" stroke="#000" stroke-width="0.35">0.100</text>
<line x1="957.35" y1="1242.8" x2="963.4" y2="1242.8" stroke="#000" stroke-width="2.6"/>
<text x="950.9" y="1248.26" font-family="'DejaVu Sans', 'Liberation Sans', sans-serif" font-size="15" fill="#000" text-anchor="end" stroke="#000" stroke-width="0.35">0.125</text>
<text x="1108.5" y="1471" font-family="'DejaVu Sans', 'Liberation Sans', sans-serif" font-size="20.4" fill="#000" text-anchor="middle" stroke="#000" stroke-width="0.35">time (days)</text>
<text transform="translate(873,1328.2) rotate(-90)" x="0" y="0" font-family="'DejaVu Sans', 'Liberation Sans', sans-serif" font-size="20.4" stroke="#000" stroke-width="0.35" text-anchor="middle">hormone</text>
<text transform="translate(895,1328.2) rotate(-90)" x="0" y="0" font-family="'DejaVu Sans', 'Liberation Sans', sans-serif" font-size="20.4" stroke="#000" stroke-width="0.35" text-anchor="middle">(e.g., insulin)</text>
</g>
<g>
<clipPath id="pc3"><rect x="1380.9" y="1233.5" width="297.8" height="190.9"/></clipPath>
<g clip-path="url(#pc3)" fill="none" stroke-linejoin="round">
<path d="M1384.9,1415.8 L1409.1,1415.8 L1413.9,1402.7 L1417.7,1405.4 L1421.9,1407.7 L1426.5,1409.7 L1431.7,1411.3 L1437.4,1412.6 L1443.9,1413.6 L1451.3,1414.4 L1460.0,1415.0 L1477.5,1415.5 L1503.8,1415.8 L1674.7,1415.8" stroke="#0072B2" stroke-width="9.2" stroke-dasharray="34.04 14.72" stroke-dashoffset="1.69" stroke-linecap="butt"/>
<path d="M1384.9,1415.8 L1409.1,1415.8 L1412.7,1403.5 L1416.1,1393.5 L1419.4,1384.8 L1422.9,1377.4 L1426.5,1371.1 L1430.4,1365.6 L1434.5,1361.1 L1439.0,1357.4 L1442.6,1355.1 L1446.5,1353.2 L1450.8,1351.7 L1455.5,1350.4 L1460.7,1349.4 L1466.6,1348.6 L1481.5,1347.6 L1483.4,1358.3 L1485.5,1367.8 L1487.8,1376.1 L1490.2,1383.4 L1492.9,1389.7 L1495.7,1395.1 L1498.9,1399.6 L1502.5,1403.5 L1506.2,1406.5 L1510.4,1409.0 L1515.2,1411.0 L1520.6,1412.6 L1526.8,1413.8 L1534.1,1414.6 L1542.8,1415.2 L1554.0,1415.5 L1561.8,1360.4 L1564.7,1342.2 L1567.6,1326.6 L1570.7,1312.0 L1573.9,1299.3 L1577.3,1288.4 L1580.9,1279.0 L1584.7,1271.0 L1588.8,1264.4 L1593.3,1259.0 L1598.3,1254.6 L1603.8,1251.2 L1610.1,1248.6 L1617.5,1246.8 L1626.4,1245.5 L1629.5,1290.1 L1631.2,1309.1 L1633.0,1325.9 L1635.0,1340.6 L1637.1,1353.6 L1639.4,1365.0 L1642.0,1374.8 L1644.6,1383.0 L1647.6,1390.0 L1650.9,1396.0 L1654.5,1400.9 L1658.6,1404.9 L1663.3,1408.1 L1668.5,1410.6 L1674.7,1412.5" stroke="#EF8232" stroke-width="3.2" stroke-linecap="square"/>
</g>
<line x1="1384.9" y1="1235.5" x2="1384.9" y2="1425.85" stroke="#000" stroke-width="2.9" stroke-linecap="butt"/>
<line x1="1383.45" y1="1424.4" x2="1674.7" y2="1424.4" stroke="#000" stroke-width="2.9"/>
<line x1="1384.9" y1="1424.4" x2="1384.9" y2="1430.45" stroke="#000" stroke-width="2.6"/>
<text x="1384.9" y="1448.8" font-family="'DejaVu Sans', 'Liberation Sans', sans-serif" font-size="15" fill="#000" text-anchor="middle" stroke="#000" stroke-width="0.35">0</text>
<line x1="1481.5" y1="1424.4" x2="1481.5" y2="1430.45" stroke="#000" stroke-width="2.6"/>
<text x="1481.5" y="1448.8" font-family="'DejaVu Sans', 'Liberation Sans', sans-serif" font-size="15" fill="#000" text-anchor="middle" stroke="#000" stroke-width="0.35">200</text>
<line x1="1578.1" y1="1424.4" x2="1578.1" y2="1430.45" stroke="#000" stroke-width="2.6"/>
<text x="1578.1" y="1448.8" font-family="'DejaVu Sans', 'Liberation Sans', sans-serif" font-size="15" fill="#000" text-anchor="middle" stroke="#000" stroke-width="0.35">400</text>
<line x1="1674.7" y1="1424.4" x2="1674.7" y2="1430.45" stroke="#000" stroke-width="2.6"/>
<text x="1674.7" y="1448.8" font-family="'DejaVu Sans', 'Liberation Sans', sans-serif" font-size="15" fill="#000" text-anchor="middle" stroke="#000" stroke-width="0.35">600</text>
<line x1="1378.85" y1="1408.9" x2="1384.9" y2="1408.9" stroke="#000" stroke-width="2.6"/>
<text x="1372.4" y="1414.36" font-family="'DejaVu Sans', 'Liberation Sans', sans-serif" font-size="15" fill="#000" text-anchor="end" stroke="#000" stroke-width="0.35">0.025</text>
<line x1="1378.85" y1="1367.6" x2="1384.9" y2="1367.6" stroke="#000" stroke-width="2.6"/>
<text x="1372.4" y="1373.06" font-family="'DejaVu Sans', 'Liberation Sans', sans-serif" font-size="15" fill="#000" text-anchor="end" stroke="#000" stroke-width="0.35">0.050</text>
<line x1="1378.85" y1="1326.3" x2="1384.9" y2="1326.3" stroke="#000" stroke-width="2.6"/>
<text x="1372.4" y="1331.76" font-family="'DejaVu Sans', 'Liberation Sans', sans-serif" font-size="15" fill="#000" text-anchor="end" stroke="#000" stroke-width="0.35">0.075</text>
<line x1="1378.85" y1="1285" x2="1384.9" y2="1285" stroke="#000" stroke-width="2.6"/>
<text x="1372.4" y="1290.46" font-family="'DejaVu Sans', 'Liberation Sans', sans-serif" font-size="15" fill="#000" text-anchor="end" stroke="#000" stroke-width="0.35">0.100</text>
<line x1="1378.85" y1="1243.7" x2="1384.9" y2="1243.7" stroke="#000" stroke-width="2.6"/>
<text x="1372.4" y="1249.16" font-family="'DejaVu Sans', 'Liberation Sans', sans-serif" font-size="15" fill="#000" text-anchor="end" stroke="#000" stroke-width="0.35">0.125</text>
<text x="1529.8" y="1472.6" font-family="'DejaVu Sans', 'Liberation Sans', sans-serif" font-size="20.4" fill="#000" text-anchor="middle" stroke="#000" stroke-width="0.35">time (days)</text>
<text transform="translate(1294.9,1329.95) rotate(-90)" x="0" y="0" font-family="'DejaVu Sans', 'Liberation Sans', sans-serif" font-size="20.4" stroke="#000" stroke-width="0.35" text-anchor="middle">endocrine tissue</text>
<text transform="translate(1316.5,1329.95) rotate(-90)" x="0" y="0" font-family="'DejaVu Sans', 'Liberation Sans', sans-serif" font-size="20.4" stroke="#000" stroke-width="0.35" text-anchor="middle">(e.g., pancreatic beta cells)</text>
</g>
<g>
<clipPath id="pd1"><rect x="538.9" y="1567.7" width="295.8" height="189.8"/></clipPath>
<g clip-path="url(#pd1)" fill="none" stroke-linejoin="round">
<path d="M542.9,1748.7 L566.9,1748.7 L566.9,1723.7 L571.7,1713.4 L571.7,1742.7 L579.1,1744.8 L587.8,1746.3 L596.1,1747.2 L606.0,1747.8 L633.7,1748.5 L830.7,1748.7" stroke="#0072B2" stroke-width="9.2" stroke-dasharray="34.04 14.72" stroke-dashoffset="1.15" stroke-linecap="butt"/>
<path d="M542.9,1748.7 L566.9,1748.7 L566.9,1723.7 L568.1,1720.1 L572.2,1710.1 L574.4,1705.9 L576.7,1702.0 L579.2,1698.6 L581.8,1695.5 L584.6,1692.8 L587.6,1690.5 L591.5,1688.1 L595.8,1686.1 L600.7,1684.5 L606.1,1683.2 L612.3,1682.3 L619.4,1681.6 L638.8,1680.8 L638.8,1723.9 L643.0,1730.2 L647.6,1735.4 L652.0,1739.0 L657.0,1741.8 L662.5,1744.1 L668.9,1745.7 L676.2,1746.9 L685.0,1747.7 L696.0,1748.2 L710.8,1748.5 L710.8,1698.9 L712.6,1684.5 L716.1,1660.9 L720.0,1641.1 L722.1,1632.5 L724.2,1624.8 L726.5,1617.8 L729.0,1611.5 L733.0,1603.2 L737.5,1596.5 L739.9,1593.6 L742.5,1591.0 L745.2,1588.8 L748.1,1586.8 L751.2,1585.2 L754.5,1583.7 L762.1,1581.5 L771.1,1580.0 L782.7,1579.0 L782.7,1699.6 L786.5,1711.2 L790.7,1720.8 L792.9,1724.9 L795.3,1728.6 L797.8,1731.8 L800.5,1734.7 L803.3,1737.2 L806.3,1739.4 L809.5,1741.3 L813.0,1742.9 L816.8,1744.3 L820.9,1745.4 L830.7,1747.0" stroke="#EF8232" stroke-width="3.2" stroke-linecap="square"/>
</g>
<line x1="542.9" y1="1569.7" x2="542.9" y2="1758.95" stroke="#000" stroke-width="2.9" stroke-linecap="butt"/>
<line x1="541.45" y1="1757.5" x2="830.7" y2="1757.5" stroke="#000" stroke-width="2.9"/>
<line x1="542.9" y1="1757.5" x2="542.9" y2="1763.55" stroke="#000" stroke-width="2.6"/>
<text x="542.9" y="1781.9" font-family="'DejaVu Sans', 'Liberation Sans', sans-serif" font-size="15" fill="#000" text-anchor="middle" stroke="#000" stroke-width="0.35">0</text>
<line x1="638.83" y1="1757.5" x2="638.83" y2="1763.55" stroke="#000" stroke-width="2.6"/>
<text x="638.83" y="1781.9" font-family="'DejaVu Sans', 'Liberation Sans', sans-serif" font-size="15" fill="#000" text-anchor="middle" stroke="#000" stroke-width="0.35">200</text>
<line x1="734.77" y1="1757.5" x2="734.77" y2="1763.55" stroke="#000" stroke-width="2.6"/>
<text x="734.77" y="1781.9" font-family="'DejaVu Sans', 'Liberation Sans', sans-serif" font-size="15" fill="#000" text-anchor="middle" stroke="#000" stroke-width="0.35">400</text>
<line x1="830.7" y1="1757.5" x2="830.7" y2="1763.55" stroke="#000" stroke-width="2.6"/>
<text x="830.7" y="1781.9" font-family="'DejaVu Sans', 'Liberation Sans', sans-serif" font-size="15" fill="#000" text-anchor="middle" stroke="#000" stroke-width="0.35">600</text>
<line x1="536.85" y1="1714.6" x2="542.9" y2="1714.6" stroke="#000" stroke-width="2.6"/>
<text x="530.4" y="1720.06" font-family="'DejaVu Sans', 'Liberation Sans', sans-serif" font-size="15" fill="#000" text-anchor="end" stroke="#000" stroke-width="0.35">2</text>
<line x1="536.85" y1="1646.45" x2="542.9" y2="1646.45" stroke="#000" stroke-width="2.6"/>
<text x="530.4" y="1651.91" font-family="'DejaVu Sans', 'Liberation Sans', sans-serif" font-size="15" fill="#000" text-anchor="end" stroke="#000" stroke-width="0.35">4</text>
<line x1="536.85" y1="1578.3" x2="542.9" y2="1578.3" stroke="#000" stroke-width="2.6"/>
<text x="530.4" y="1583.76" font-family="'DejaVu Sans', 'Liberation Sans', sans-serif" font-size="15" fill="#000" text-anchor="end" stroke="#000" stroke-width="0.35">6</text>
<text x="686.8" y="1805" font-family="'DejaVu Sans', 'Liberation Sans', sans-serif" font-size="20.4" fill="#000" text-anchor="middle" stroke="#000" stroke-width="0.35">time (days)</text>
<text transform="translate(487.9,1663.6) rotate(-90)" x="0" y="0" font-family="'DejaVu Sans', 'Liberation Sans', sans-serif" font-size="20.4" stroke="#000" stroke-width="0.35" text-anchor="middle">metabolite</text>
<text transform="translate(508,1663.6) rotate(-90)" x="0" y="0" font-family="'DejaVu Sans', 'Liberation Sans', sans-serif" font-size="20.4" stroke="#000" stroke-width="0.35" text-anchor="middle">(e.g., gastric acid)</text>
</g>
<g>
<clipPath id="pd2"><rect x="959.4" y="1566.6" width="296.9" height="189.5"/></clipPath>
<g clip-path="url(#pd2)" fill="none" stroke-linejoin="round">
<path d="M963.4,1698.2 L987.5,1698.2 L987.5,1613.8 L988.2,1630.1 L989.1,1641.7 L990.4,1650.5 L992.3,1658.5 L992.3,1710.6 L997.5,1707.9 L1002.2,1705.8 L1007.4,1704.0 L1012.9,1702.5 L1019.0,1701.3 L1025.7,1700.3 L1042.1,1699.0 L1059.7,1698.5 L1085.7,1698.3 L1252.3,1698.2" stroke="#0072B2" stroke-width="9.2" stroke-dasharray="34.04 14.72" stroke-dashoffset="48.66" stroke-linecap="butt"/>
<path d="M963.4,1698.2 L987.5,1698.2 L987.5,1613.8 L988.1,1629.2 L988.8,1641.0 L989.8,1649.8 L991.2,1657.7 L993.4,1665.9 L996.0,1673.1 L999.1,1679.2 L1002.7,1684.1 L1006.4,1687.8 L1010.7,1690.7 L1015.7,1693.1 L1021.5,1694.9 L1028.2,1696.2 L1036.3,1697.1 L1046.4,1697.6 L1059.7,1698.0 L1059.7,1743.1 L1060.2,1734.2 L1060.7,1732.3 L1061.6,1730.8 L1067.3,1723.1 L1072.7,1717.0 L1078.1,1712.1 L1083.6,1708.1 L1087.8,1705.8 L1092.2,1703.9 L1097.0,1702.3 L1102.3,1701.1 L1108.1,1700.1 L1114.7,1699.4 L1131.9,1698.6 L1131.9,1577.9 L1134.1,1612.5 L1135.4,1626.5 L1136.9,1638.6 L1138.5,1649.0 L1140.4,1658.2 L1142.6,1666.0 L1145.0,1672.7 L1148.6,1679.6 L1150.6,1682.5 L1152.7,1685.1 L1155.1,1687.3 L1157.7,1689.3 L1160.5,1691.1 L1163.5,1692.6 L1170.4,1694.8 L1178.9,1696.4 L1189.6,1697.4 L1204.1,1697.9 L1204.2,1747.5 L1214.1,1733.0 L1219.0,1726.2 L1224.1,1720.0 L1228.9,1714.9 L1234.2,1710.5 L1239.7,1706.9 L1245.7,1704.1 L1252.3,1702.0" stroke="#EF8232" stroke-width="3.2" stroke-linecap="square"/>
</g>
<line x1="963.4" y1="1568.6" x2="963.4" y2="1757.55" stroke="#000" stroke-width="2.9" stroke-linecap="butt"/>
<line x1="961.95" y1="1756.1" x2="1252.3" y2="1756.1" stroke="#000" stroke-width="2.9"/>
<line x1="963.4" y1="1756.1" x2="963.4" y2="1762.15" stroke="#000" stroke-width="2.6"/>
<text x="963.4" y="1780.5" font-family="'DejaVu Sans', 'Liberation Sans', sans-serif" font-size="15" fill="#000" text-anchor="middle" stroke="#000" stroke-width="0.35">0</text>
<line x1="1059.7" y1="1756.1" x2="1059.7" y2="1762.15" stroke="#000" stroke-width="2.6"/>
<text x="1059.7" y="1780.5" font-family="'DejaVu Sans', 'Liberation Sans', sans-serif" font-size="15" fill="#000" text-anchor="middle" stroke="#000" stroke-width="0.35">200</text>
<line x1="1156" y1="1756.1" x2="1156" y2="1762.15" stroke="#000" stroke-width="2.6"/>
<text x="1156" y="1780.5" font-family="'DejaVu Sans', 'Liberation Sans', sans-serif" font-size="15" fill="#000" text-anchor="middle" stroke="#000" stroke-width="0.35">400</text>
<line x1="1252.3" y1="1756.1" x2="1252.3" y2="1762.15" stroke="#000" stroke-width="2.6"/>
<text x="1252.3" y="1780.5" font-family="'DejaVu Sans', 'Liberation Sans', sans-serif" font-size="15" fill="#000" text-anchor="middle" stroke="#000" stroke-width="0.35">600</text>
<line x1="957.35" y1="1698.2" x2="963.4" y2="1698.2" stroke="#000" stroke-width="2.6"/>
<text x="950.9" y="1703.66" font-family="'DejaVu Sans', 'Liberation Sans', sans-serif" font-size="15" fill="#000" text-anchor="end" stroke="#000" stroke-width="0.35">1</text>
<line x1="957.35" y1="1614.6" x2="963.4" y2="1614.6" stroke="#000" stroke-width="2.6"/>
<text x="950.9" y="1620.06" font-family="'DejaVu Sans', 'Liberation Sans', sans-serif" font-size="15" fill="#000" text-anchor="end" stroke="#000" stroke-width="0.35">2</text>
<text x="1107.85" y="1804.7" font-family="'DejaVu Sans', 'Liberation Sans', sans-serif" font-size="20.4" fill="#000" text-anchor="middle" stroke="#000" stroke-width="0.35">time (days)</text>
<text transform="translate(907.8,1662.35) rotate(-90)" x="0" y="0" font-family="'DejaVu Sans', 'Liberation Sans', sans-serif" font-size="20.4" stroke="#000" stroke-width="0.35" text-anchor="middle">hormone</text>
<text transform="translate(929.8,1662.35) rotate(-90)" x="0" y="0" font-family="'DejaVu Sans', 'Liberation Sans', sans-serif" font-size="20.4" stroke="#000" stroke-width="0.35" text-anchor="middle">(e.g., gastrin)</text>
</g>
<g>
<clipPath id="pd3"><rect x="1379" y="1565.6" width="296" height="189"/></clipPath>
<g clip-path="url(#pd3)" fill="none" stroke-linejoin="round">
<path d="M1383.0,1746.4 L1407.0,1746.4 L1411.8,1733.5 L1415.6,1736.1 L1419.8,1738.4 L1424.4,1740.4 L1429.5,1741.9 L1435.2,1743.2 L1441.6,1744.2 L1449.0,1745.0 L1457.6,1745.5 L1475.0,1746.1 L1501.2,1746.3 L1671.0,1746.4" stroke="#0072B2" stroke-width="9.2" stroke-dasharray="34.04 14.72" stroke-dashoffset="2.23" stroke-linecap="butt"/>
<path d="M1383.0,1746.4 L1407.0,1746.4 L1410.6,1734.3 L1414.0,1724.4 L1417.3,1715.9 L1420.7,1708.6 L1424.3,1702.3 L1428.2,1697.0 L1432.3,1692.6 L1436.8,1688.9 L1440.4,1686.7 L1444.2,1684.8 L1448.4,1683.3 L1453.1,1682.0 L1458.3,1681.0 L1464.2,1680.3 L1479.0,1679.3 L1480.9,1689.8 L1483.0,1699.2 L1485.2,1707.3 L1487.6,1714.5 L1490.3,1720.7 L1493.2,1726.0 L1496.3,1730.5 L1499.8,1734.2 L1503.6,1737.2 L1507.8,1739.7 L1512.5,1741.7 L1517.9,1743.2 L1524.0,1744.3 L1531.2,1745.2 L1540.0,1745.7 L1551.0,1746.1 L1558.8,1691.9 L1561.7,1674.0 L1564.6,1658.6 L1567.7,1644.2 L1570.8,1631.8 L1574.2,1621.0 L1577.7,1611.8 L1581.5,1604.0 L1585.6,1597.4 L1590.1,1592.1 L1595.1,1587.8 L1600.6,1584.5 L1606.8,1581.9 L1614.2,1580.1 L1623.0,1578.9 L1626.1,1622.7 L1627.8,1641.4 L1629.6,1657.9 L1631.5,1672.4 L1633.7,1685.2 L1636.0,1696.4 L1638.5,1706.0 L1641.1,1714.1 L1644.1,1721.0 L1647.3,1726.8 L1651.0,1731.7 L1655.0,1735.6 L1659.6,1738.8 L1664.9,1741.2 L1671.0,1743.1" stroke="#EF8232" stroke-width="3.2" stroke-linecap="square"/>
</g>
<line x1="1383" y1="1567.6" x2="1383" y2="1756.05" stroke="#000" stroke-width="2.9" stroke-linecap="butt"/>
<line x1="1381.55" y1="1754.6" x2="1671" y2="1754.6" stroke="#000" stroke-width="2.9"/>
<line x1="1383" y1="1754.6" x2="1383" y2="1760.65" stroke="#000" stroke-width="2.6"/>
<text x="1383" y="1779" font-family="'DejaVu Sans', 'Liberation Sans', sans-serif" font-size="15" fill="#000" text-anchor="middle" stroke="#000" stroke-width="0.35">0</text>
<line x1="1479" y1="1754.6" x2="1479" y2="1760.65" stroke="#000" stroke-width="2.6"/>
<text x="1479" y="1779" font-family="'DejaVu Sans', 'Liberation Sans', sans-serif" font-size="15" fill="#000" text-anchor="middle" stroke="#000" stroke-width="0.35">200</text>
<line x1="1575" y1="1754.6" x2="1575" y2="1760.65" stroke="#000" stroke-width="2.6"/>
<text x="1575" y="1779" font-family="'DejaVu Sans', 'Liberation Sans', sans-serif" font-size="15" fill="#000" text-anchor="middle" stroke="#000" stroke-width="0.35">400</text>
<line x1="1671" y1="1754.6" x2="1671" y2="1760.65" stroke="#000" stroke-width="2.6"/>
<text x="1671" y="1779" font-family="'DejaVu Sans', 'Liberation Sans', sans-serif" font-size="15" fill="#000" text-anchor="middle" stroke="#000" stroke-width="0.35">600</text>
<line x1="1376.95" y1="1746.4" x2="1383" y2="1746.4" stroke="#000" stroke-width="2.6"/>
<text x="1370.5" y="1751.86" font-family="'DejaVu Sans', 'Liberation Sans', sans-serif" font-size="15" fill="#000" text-anchor="end" stroke="#000" stroke-width="0.35">1</text>
<line x1="1376.95" y1="1712.6" x2="1383" y2="1712.6" stroke="#000" stroke-width="2.6"/>
<text x="1370.5" y="1718.06" font-family="'DejaVu Sans', 'Liberation Sans', sans-serif" font-size="15" fill="#000" text-anchor="end" stroke="#000" stroke-width="0.35">2</text>
<text x="1527" y="1803.3" font-family="'DejaVu Sans', 'Liberation Sans', sans-serif" font-size="20.4" fill="#000" text-anchor="middle" stroke="#000" stroke-width="0.35">time (days)</text>
<text transform="translate(1328.8,1661.1) rotate(-90)" x="0" y="0" font-family="'DejaVu Sans', 'Liberation Sans', sans-serif" font-size="20.4" stroke="#000" stroke-width="0.35" text-anchor="middle">endocrine tissue</text>
<text transform="translate(1349.5,1661.1) rotate(-90)" x="0" y="0" font-family="'DejaVu Sans', 'Liberation Sans', sans-serif" font-size="20.4" stroke="#000" stroke-width="0.35" text-anchor="middle">(e.g., G-cells)</text>
</g>
<g>
<clipPath id="pe1"><rect x="525.2" y="1931.4" width="308.8" height="198.1"/></clipPath>
<g clip-path="url(#pe1)" fill="none" stroke-linejoin="round">
<path d="M529.2,2079.0 L554.2,2079.0 L554.3,1970.2 L555.2,1993.6 L556.3,2011.3 L557.6,2025.4 L559.3,2036.4 L559.3,2104.7 L560.1,2093.6 L560.8,2091.2 L561.8,2090.1 L574.1,2085.9 L582.8,2083.5 L592.3,2081.6 L602.7,2080.3 L617.8,2079.4 L638.9,2079.0 L830.0,2079.0" stroke="#0072B2" stroke-width="9.2" stroke-dasharray="34.04 14.72" stroke-dashoffset="0.38" stroke-linecap="butt"/>
<path d="M529.2,2079.0 L554.2,2079.0 L554.3,1970.2 L555.3,1996.0 L556.5,2015.6 L558.0,2030.8 L560.0,2042.7 L561.2,2048.1 L562.7,2052.9 L564.4,2057.3 L566.2,2061.3 L568.3,2064.9 L570.6,2068.0 L573.1,2070.7 L575.9,2072.9 L579.4,2075.1 L583.4,2076.8 L588.0,2078.0 L593.2,2078.9 L598.8,2079.4 L605.7,2079.6 L629.4,2079.3 L629.5,2110.4 L642.2,2098.1 L649.2,2091.9 L656.3,2086.9 L659.8,2084.9 L663.3,2083.2 L667.0,2081.8 L670.9,2080.7 L679.5,2079.2 L689.7,2078.5 L704.6,2078.5 L704.7,1938.8 L706.1,1968.8 L707.7,1994.0 L709.6,2014.7 L711.8,2031.6 L714.3,2045.1 L717.4,2055.9 L719.1,2060.3 L721.0,2064.2 L723.0,2067.6 L725.3,2070.5 L728.6,2073.7 L732.5,2076.1 L736.9,2077.9 L742.1,2079.1 L747.7,2079.8 L754.6,2080.0 L779.8,2079.5 L779.9,2121.1 L788.1,2113.5 L804.7,2096.1 L811.4,2090.0 L815.9,2086.6 L820.5,2083.9 L825.1,2081.8 L830.0,2080.2" stroke="#EF8232" stroke-width="3.2" stroke-linecap="square"/>
</g>
<line x1="529.2" y1="1933.4" x2="529.2" y2="2130.95" stroke="#000" stroke-width="2.9" stroke-linecap="butt"/>
<line x1="527.75" y1="2129.5" x2="830" y2="2129.5" stroke="#000" stroke-width="2.9"/>
<line x1="529.2" y1="2129.5" x2="529.2" y2="2135.55" stroke="#000" stroke-width="2.6"/>
<text x="529.2" y="2153.9" font-family="'DejaVu Sans', 'Liberation Sans', sans-serif" font-size="15.6" fill="#000" text-anchor="middle" stroke="#000" stroke-width="0.35">0</text>
<line x1="629.47" y1="2129.5" x2="629.47" y2="2135.55" stroke="#000" stroke-width="2.6"/>
<text x="629.47" y="2153.9" font-family="'DejaVu Sans', 'Liberation Sans', sans-serif" font-size="15.6" fill="#000" text-anchor="middle" stroke="#000" stroke-width="0.35">200</text>
<line x1="729.73" y1="2129.5" x2="729.73" y2="2135.55" stroke="#000" stroke-width="2.6"/>
<text x="729.73" y="2153.9" font-family="'DejaVu Sans', 'Liberation Sans', sans-serif" font-size="15.6" fill="#000" text-anchor="middle" stroke="#000" stroke-width="0.35">400</text>
<line x1="830" y1="2129.5" x2="830" y2="2135.55" stroke="#000" stroke-width="2.6"/>
<text x="830" y="2153.9" font-family="'DejaVu Sans', 'Liberation Sans', sans-serif" font-size="15.6" fill="#000" text-anchor="middle" stroke="#000" stroke-width="0.35">600</text>
<line x1="523.15" y1="2079" x2="529.2" y2="2079" stroke="#000" stroke-width="2.6"/>
<text x="516.7" y="2084.68" font-family="'DejaVu Sans', 'Liberation Sans', sans-serif" font-size="15.6" fill="#000" text-anchor="end" stroke="#000" stroke-width="0.35">1</text>
<line x1="523.15" y1="2018.8" x2="529.2" y2="2018.8" stroke="#000" stroke-width="2.6"/>
<text x="516.7" y="2024.48" font-family="'DejaVu Sans', 'Liberation Sans', sans-serif" font-size="15.6" fill="#000" text-anchor="end" stroke="#000" stroke-width="0.35">2</text>
<text x="679.6" y="2179.9" font-family="'DejaVu Sans', 'Liberation Sans', sans-serif" font-size="21.2" fill="#000" text-anchor="middle" stroke="#000" stroke-width="0.35">time (days)</text>
<text transform="translate(471,2031.45) rotate(-90)" x="0" y="0" font-family="'DejaVu Sans', 'Liberation Sans', sans-serif" font-size="21.2" stroke="#000" stroke-width="0.35" text-anchor="middle">hormone 1</text>
<text transform="translate(493,2031.45) rotate(-90)" x="0" y="0" font-family="'DejaVu Sans', 'Liberation Sans', sans-serif" font-size="21.2" stroke="#000" stroke-width="0.35" text-anchor="middle">(e.g., CRH)</text>
</g>
<g>
<clipPath id="pe2"><rect x="955" y="1932.2" width="309.3" height="198.6"/></clipPath>
<g clip-path="url(#pe2)" fill="none" stroke-linejoin="round">
<path d="M959.0,2064.0 L984.1,2064.0 L984.1,1961.2 L984.5,1990.4 L985.1,2003.6 L985.4,2006.0 L985.9,2007.6 L989.1,2012.7 L989.1,2067.7 L992.0,2069.0 L994.9,2069.9 L998.0,2070.4 L1001.5,2070.6 L1005.4,2070.5 L1011.8,2069.9 L1030.9,2067.1 L1042.5,2065.7 L1056.3,2064.8 L1072.8,2064.2 L1104.2,2064.0 L1260.3,2064.0" stroke="#0072B2" stroke-width="9.2" stroke-dasharray="34.04 14.72" stroke-dashoffset="24.1" stroke-linecap="butt"/>
<path d="M959.0,2064.0 L984.1,2064.0 L984.1,1961.2 L984.6,1993.5 L985.0,2001.0 L985.5,2004.8 L985.9,2005.9 L987.9,2007.9 L989.6,2010.5 L999.9,2032.2 L1003.3,2038.3 L1006.8,2043.5 L1011.2,2048.9 L1016.0,2053.3 L1021.1,2056.8 L1026.8,2059.5 L1033.1,2061.5 L1040.3,2062.9 L1048.7,2063.7 L1059.4,2064.1 L1059.4,2122.9 L1060.1,2107.2 L1060.6,2104.1 L1061.4,2102.8 L1066.8,2099.9 L1071.7,2096.8 L1077.1,2092.7 L1093.6,2079.1 L1099.3,2075.1 L1104.7,2072.0 L1111.3,2069.0 L1118.2,2066.8 L1125.9,2065.3 L1134.7,2064.4 L1134.8,1960.1 L1135.6,1956.0 L1136.1,1955.0 L1136.6,1954.6 L1137.2,1955.1 L1137.8,1956.2 L1139.2,1961.2 L1146.6,1998.1 L1149.0,2008.6 L1151.5,2017.7 L1154.1,2026.0 L1156.9,2033.2 L1159.9,2039.5 L1163.2,2044.9 L1167.0,2049.9 L1171.2,2054.1 L1175.8,2057.4 L1180.9,2060.0 L1186.6,2061.8 L1193.0,2063.1 L1200.6,2063.9 L1210.1,2064.3 L1210.1,2121.7 L1218.2,2116.4 L1226.2,2109.9 L1233.4,2102.8 L1250.5,2084.3 L1255.5,2079.5 L1260.3,2075.6" stroke="#EF8232" stroke-width="3.2" stroke-linecap="square"/>
</g>
<line x1="959" y1="1934.2" x2="959" y2="2132.25" stroke="#000" stroke-width="2.9" stroke-linecap="butt"/>
<line x1="957.55" y1="2130.8" x2="1260.3" y2="2130.8" stroke="#000" stroke-width="2.9"/>
<line x1="959" y1="2130.8" x2="959" y2="2136.85" stroke="#000" stroke-width="2.6"/>
<text x="959" y="2155.2" font-family="'DejaVu Sans', 'Liberation Sans', sans-serif" font-size="15.6" fill="#000" text-anchor="middle" stroke="#000" stroke-width="0.35">0</text>
<line x1="1059.43" y1="2130.8" x2="1059.43" y2="2136.85" stroke="#000" stroke-width="2.6"/>
<text x="1059.43" y="2155.2" font-family="'DejaVu Sans', 'Liberation Sans', sans-serif" font-size="15.6" fill="#000" text-anchor="middle" stroke="#000" stroke-width="0.35">200</text>
<line x1="1159.87" y1="2130.8" x2="1159.87" y2="2136.85" stroke="#000" stroke-width="2.6"/>
<text x="1159.87" y="2155.2" font-family="'DejaVu Sans', 'Liberation Sans', sans-serif" font-size="15.6" fill="#000" text-anchor="middle" stroke="#000" stroke-width="0.35">400</text>
<line x1="1260.3" y1="2130.8" x2="1260.3" y2="2136.85" stroke="#000" stroke-width="2.6"/>
<text x="1260.3" y="2155.2" font-family="'DejaVu Sans', 'Liberation Sans', sans-serif" font-size="15.6" fill="#000" text-anchor="middle" stroke="#000" stroke-width="0.35">600</text>
<line x1="952.95" y1="2064" x2="959" y2="2064" stroke="#000" stroke-width="2.6"/>
<text x="946.5" y="2069.68" font-family="'DejaVu Sans', 'Liberation Sans', sans-serif" font-size="15.6" fill="#000" text-anchor="end" stroke="#000" stroke-width="0.35">1</text>
<line x1="952.95" y1="1936" x2="959" y2="1936" stroke="#000" stroke-width="2.6"/>
<text x="946.5" y="1941.68" font-family="'DejaVu Sans', 'Liberation Sans', sans-serif" font-size="15.6" fill="#000" text-anchor="end" stroke="#000" stroke-width="0.35">2</text>
<text x="1109.65" y="2181.2" font-family="'DejaVu Sans', 'Liberation Sans', sans-serif" font-size="21.2" fill="#000" text-anchor="middle" stroke="#000" stroke-width="0.35">time (days)</text>
<text transform="translate(901.4,2032.5) rotate(-90)" x="0" y="0" font-family="'DejaVu Sans', 'Liberation Sans', sans-serif" font-size="21.2" stroke="#000" stroke-width="0.35" text-anchor="middle">hormone 2</text>
<text transform="translate(923.5,2032.5) rotate(-90)" x="0" y="0" font-family="'DejaVu Sans', 'Liberation Sans', sans-serif" font-size="21.2" stroke="#000" stroke-width="0.35" text-anchor="middle">(e.g., ACTH)</text>
</g>
<g>
<clipPath id="pe3"><rect x="1380.3" y="1933.7" width="308.7" height="198.4"/></clipPath>
<g clip-path="url(#pe3)" fill="none" stroke-linejoin="round">
<path d="M1384.3,2122.7 L1409.3,2122.7 L1409.4,2107.3 L1414.3,2094.7 L1414.4,2113.8 L1422.6,2116.5 L1430.3,2118.4 L1438.4,2119.9 L1447.0,2121.1 L1463.6,2122.2 L1486.9,2122.6 L1685.0,2122.7" stroke="#0072B2" stroke-width="9.2" stroke-dasharray="34.04 14.72" stroke-dashoffset="2.04" stroke-linecap="butt"/>
<path d="M1384.3,2122.7 L1409.3,2122.7 L1409.5,2106.9 L1414.4,2092.7 L1418.9,2081.9 L1423.3,2073.2 L1427.9,2066.3 L1431.2,2062.6 L1434.7,2059.5 L1438.4,2057.1 L1442.4,2055.2 L1446.8,2053.8 L1451.7,2052.9 L1457.4,2052.4 L1464.5,2052.3 L1484.5,2052.7 L1484.5,2084.8 L1488.9,2094.2 L1493.6,2101.9 L1496.1,2105.3 L1498.8,2108.3 L1501.5,2110.9 L1504.4,2113.3 L1508.8,2116.1 L1513.5,2118.4 L1518.7,2120.1 L1524.4,2121.4 L1530.7,2122.2 L1538.0,2122.8 L1559.7,2123.0 L1559.7,2094.9 L1564.1,2060.5 L1567.9,2034.0 L1571.3,2012.8 L1574.9,1995.2 L1578.5,1980.8 L1581.5,1971.7 L1584.7,1964.1 L1588.0,1958.0 L1591.7,1953.3 L1595.6,1949.8 L1600.1,1947.5 L1605.1,1946.2 L1611.3,1945.7 L1618.5,1946.1 L1634.9,1947.6 L1634.9,2041.9 L1637.8,2056.0 L1640.9,2068.5 L1644.2,2079.4 L1647.7,2088.9 L1651.1,2096.2 L1654.8,2102.5 L1658.7,2107.8 L1663.0,2112.3 L1667.7,2115.8 L1672.8,2118.5 L1678.5,2120.6 L1685.0,2122.0" stroke="#EF8232" stroke-width="3.2" stroke-linecap="square"/>
</g>
<line x1="1384.3" y1="1935.7" x2="1384.3" y2="2133.55" stroke="#000" stroke-width="2.9" stroke-linecap="butt"/>
<line x1="1382.85" y1="2132.1" x2="1685" y2="2132.1" stroke="#000" stroke-width="2.9"/>
<line x1="1384.3" y1="2132.1" x2="1384.3" y2="2138.15" stroke="#000" stroke-width="2.6"/>
<text x="1384.3" y="2156.5" font-family="'DejaVu Sans', 'Liberation Sans', sans-serif" font-size="15.6" fill="#000" text-anchor="middle" stroke="#000" stroke-width="0.35">0</text>
<line x1="1484.53" y1="2132.1" x2="1484.53" y2="2138.15" stroke="#000" stroke-width="2.6"/>
<text x="1484.53" y="2156.5" font-family="'DejaVu Sans', 'Liberation Sans', sans-serif" font-size="15.6" fill="#000" text-anchor="middle" stroke="#000" stroke-width="0.35">200</text>
<line x1="1584.77" y1="2132.1" x2="1584.77" y2="2138.15" stroke="#000" stroke-width="2.6"/>
<text x="1584.77" y="2156.5" font-family="'DejaVu Sans', 'Liberation Sans', sans-serif" font-size="15.6" fill="#000" text-anchor="middle" stroke="#000" stroke-width="0.35">400</text>
<line x1="1685" y1="2132.1" x2="1685" y2="2138.15" stroke="#000" stroke-width="2.6"/>
<text x="1685" y="2156.5" font-family="'DejaVu Sans', 'Liberation Sans', sans-serif" font-size="15.6" fill="#000" text-anchor="middle" stroke="#000" stroke-width="0.35">600</text>
<line x1="1378.25" y1="2088" x2="1384.3" y2="2088" stroke="#000" stroke-width="2.6"/>
<text x="1371.8" y="2093.68" font-family="'DejaVu Sans', 'Liberation Sans', sans-serif" font-size="15.6" fill="#000" text-anchor="end" stroke="#000" stroke-width="0.35">2</text>
<line x1="1378.25" y1="2018.65" x2="1384.3" y2="2018.65" stroke="#000" stroke-width="2.6"/>
<text x="1371.8" y="2024.33" font-family="'DejaVu Sans', 'Liberation Sans', sans-serif" font-size="15.6" fill="#000" text-anchor="end" stroke="#000" stroke-width="0.35">4</text>
<line x1="1378.25" y1="1949.3" x2="1384.3" y2="1949.3" stroke="#000" stroke-width="2.6"/>
<text x="1371.8" y="1954.98" font-family="'DejaVu Sans', 'Liberation Sans', sans-serif" font-size="15.6" fill="#000" text-anchor="end" stroke="#000" stroke-width="0.35">6</text>
<text x="1534.65" y="2181.4" font-family="'DejaVu Sans', 'Liberation Sans', sans-serif" font-size="21.2" fill="#000" text-anchor="middle" stroke="#000" stroke-width="0.35">time (days)</text>
<text transform="translate(1327.4,2033.9) rotate(-90)" x="0" y="0" font-family="'DejaVu Sans', 'Liberation Sans', sans-serif" font-size="21.2" stroke="#000" stroke-width="0.35" text-anchor="middle">hormone 3</text>
<text transform="translate(1349.5,2033.9) rotate(-90)" x="0" y="0" font-family="'DejaVu Sans', 'Liberation Sans', sans-serif" font-size="21.2" stroke="#000" stroke-width="0.35" text-anchor="middle">(e.g., cortisol)</text>
</g>
<g>
<clipPath id="pe4"><rect x="947.8" y="2226.6" width="309.3" height="198"/></clipPath>
<g clip-path="url(#pe4)" fill="none" stroke-linejoin="round">
<path d="M951.8,2414.3 L976.9,2414.3 L981.9,2397.2 L986.0,2400.9 L990.5,2404.1 L995.2,2406.8 L1000.4,2408.9 L1005.9,2410.7 L1012.1,2412.0 L1019.1,2413.0 L1027.1,2413.7 L1039.0,2414.2 L1055.6,2414.4 L1253.1,2414.3" stroke="#0072B2" stroke-width="9.2" stroke-dasharray="34.04 14.72" stroke-dashoffset="5.82" stroke-linecap="butt"/>
<path d="M951.8,2414.3 L976.9,2414.3 L982.2,2392.8 L986.1,2378.9 L990.1,2367.6 L992.1,2363.0 L994.3,2359.0 L996.5,2355.6 L998.8,2352.7 L1001.2,2350.3 L1003.8,2348.4 L1006.6,2347.1 L1009.7,2346.1 L1013.1,2345.5 L1016.9,2345.4 L1023.5,2345.7 L1041.3,2347.8 L1052.2,2348.7 L1054.5,2361.4 L1057.0,2372.4 L1059.7,2381.9 L1062.7,2389.9 L1065.9,2396.6 L1069.5,2402.2 L1073.4,2406.6 L1077.9,2410.1 L1081.4,2412.0 L1085.3,2413.4 L1089.5,2414.5 L1094.4,2415.1 L1105.6,2415.5 L1127.6,2414.9 L1134.5,2344.9 L1137.4,2318.8 L1140.9,2292.8 L1144.4,2272.7 L1146.4,2264.1 L1148.5,2256.8 L1150.7,2250.9 L1153.0,2246.1 L1155.5,2242.6 L1158.2,2240.1 L1161.1,2238.7 L1164.5,2238.2 L1167.3,2238.5 L1170.6,2239.3 L1190.0,2246.7 L1196.4,2248.6 L1202.9,2250.1 L1206.2,2296.3 L1208.0,2315.7 L1209.9,2332.9 L1212.0,2347.9 L1214.2,2361.1 L1216.6,2372.6 L1219.3,2382.5 L1222.1,2390.6 L1225.2,2397.4 L1228.5,2403.1 L1232.3,2407.6 L1236.5,2411.0 L1241.3,2413.5 L1246.7,2415.1 L1253.1,2416.0" stroke="#EF8232" stroke-width="3.2" stroke-linecap="square"/>
</g>
<line x1="951.8" y1="2228.6" x2="951.8" y2="2426.05" stroke="#000" stroke-width="2.9" stroke-linecap="butt"/>
<line x1="950.35" y1="2424.6" x2="1253.1" y2="2424.6" stroke="#000" stroke-width="2.9"/>
<line x1="951.8" y1="2424.6" x2="951.8" y2="2430.65" stroke="#000" stroke-width="2.6"/>
<text x="951.8" y="2449" font-family="'DejaVu Sans', 'Liberation Sans', sans-serif" font-size="15.6" fill="#000" text-anchor="middle" stroke="#000" stroke-width="0.35">0</text>
<line x1="1052.23" y1="2424.6" x2="1052.23" y2="2430.65" stroke="#000" stroke-width="2.6"/>
<text x="1052.23" y="2449" font-family="'DejaVu Sans', 'Liberation Sans', sans-serif" font-size="15.6" fill="#000" text-anchor="middle" stroke="#000" stroke-width="0.35">200</text>
<line x1="1152.67" y1="2424.6" x2="1152.67" y2="2430.65" stroke="#000" stroke-width="2.6"/>
<text x="1152.67" y="2449" font-family="'DejaVu Sans', 'Liberation Sans', sans-serif" font-size="15.6" fill="#000" text-anchor="middle" stroke="#000" stroke-width="0.35">400</text>
<line x1="1253.1" y1="2424.6" x2="1253.1" y2="2430.65" stroke="#000" stroke-width="2.6"/>
<text x="1253.1" y="2449" font-family="'DejaVu Sans', 'Liberation Sans', sans-serif" font-size="15.6" fill="#000" text-anchor="middle" stroke="#000" stroke-width="0.35">600</text>
<line x1="945.75" y1="2414.3" x2="951.8" y2="2414.3" stroke="#000" stroke-width="2.6"/>
<text x="939.3" y="2419.98" font-family="'DejaVu Sans', 'Liberation Sans', sans-serif" font-size="15.6" fill="#000" text-anchor="end" stroke="#000" stroke-width="0.35">1</text>
<line x1="945.75" y1="2382" x2="951.8" y2="2382" stroke="#000" stroke-width="2.6"/>
<text x="939.3" y="2387.68" font-family="'DejaVu Sans', 'Liberation Sans', sans-serif" font-size="15.6" fill="#000" text-anchor="end" stroke="#000" stroke-width="0.35">2</text>
<text x="1102.45" y="2475.1" font-family="'DejaVu Sans', 'Liberation Sans', sans-serif" font-size="21.2" fill="#000" text-anchor="middle" stroke="#000" stroke-width="0.35">time (days)</text>
<text transform="translate(890.5,2326.6) rotate(-90)" x="0" y="0" font-family="'DejaVu Sans', 'Liberation Sans', sans-serif" font-size="21.2" stroke="#000" stroke-width="0.35" text-anchor="middle">middle gland</text>
<text transform="translate(913.5,2326.6) rotate(-90)" x="0" y="0" font-family="'DejaVu Sans', 'Liberation Sans', sans-serif" font-size="21.2" stroke="#000" stroke-width="0.35" text-anchor="middle">(e.g., pituitary)</text>
</g>
<g>
<clipPath id="pe5"><rect x="1376.8" y="2227.5" width="309" height="197.9"/></clipPath>
<g clip-path="url(#pe5)" fill="none" stroke-linejoin="round">
<path d="M1380.8,2416.4 L1405.9,2416.4 L1410.9,2406.2 L1416.3,2407.3 L1432.7,2411.4 L1442.8,2413.4 L1456.0,2415.0 L1471.5,2415.9 L1506.0,2416.4 L1681.8,2416.4" stroke="#0072B2" stroke-width="9.2" stroke-dasharray="34.04 14.72" stroke-dashoffset="0.02" stroke-linecap="butt"/>
<path d="M1380.8,2416.4 L1405.9,2416.4 L1409.8,2408.2 L1419.7,2385.3 L1424.4,2375.6 L1427.5,2370.2 L1430.5,2365.4 L1433.6,2361.3 L1436.8,2357.8 L1440.3,2354.6 L1444.1,2352.0 L1448.1,2349.9 L1452.4,2348.3 L1457.1,2347.2 L1462.4,2346.4 L1468.5,2346.0 L1476.1,2345.8 L1481.1,2345.9 L1484.1,2356.6 L1487.2,2366.3 L1490.4,2375.0 L1493.7,2382.6 L1497.2,2389.3 L1500.9,2395.1 L1504.9,2400.1 L1509.1,2404.3 L1513.1,2407.4 L1517.5,2410.0 L1522.2,2412.2 L1527.4,2413.8 L1533.1,2415.0 L1539.5,2415.8 L1547.0,2416.3 L1556.4,2416.6 L1558.7,2407.4 L1561.3,2394.5 L1571.5,2335.2 L1576.5,2309.5 L1579.1,2297.6 L1581.7,2287.1 L1584.4,2277.9 L1587.1,2270.0 L1590.3,2262.1 L1593.8,2255.5 L1597.4,2250.3 L1601.3,2246.1 L1605.5,2243.1 L1610.2,2241.1 L1615.6,2239.8 L1622.0,2239.4 L1631.6,2239.7 L1633.9,2263.5 L1636.2,2285.2 L1638.7,2304.6 L1641.3,2322.1 L1644.0,2337.8 L1647.0,2351.7 L1650.1,2363.9 L1653.4,2374.7 L1656.2,2382.0 L1659.1,2388.5 L1662.3,2394.2 L1665.6,2399.2 L1669.2,2403.4 L1673.0,2406.9 L1677.2,2409.8 L1681.8,2412.1" stroke="#EF8232" stroke-width="3.2" stroke-linecap="square"/>
</g>
<line x1="1380.8" y1="2229.5" x2="1380.8" y2="2426.85" stroke="#000" stroke-width="2.9" stroke-linecap="butt"/>
<line x1="1379.35" y1="2425.4" x2="1681.8" y2="2425.4" stroke="#000" stroke-width="2.9"/>
<line x1="1380.8" y1="2425.4" x2="1380.8" y2="2431.45" stroke="#000" stroke-width="2.6"/>
<text x="1380.8" y="2449.8" font-family="'DejaVu Sans', 'Liberation Sans', sans-serif" font-size="15.6" fill="#000" text-anchor="middle" stroke="#000" stroke-width="0.35">0</text>
<line x1="1481.13" y1="2425.4" x2="1481.13" y2="2431.45" stroke="#000" stroke-width="2.6"/>
<text x="1481.13" y="2449.8" font-family="'DejaVu Sans', 'Liberation Sans', sans-serif" font-size="15.6" fill="#000" text-anchor="middle" stroke="#000" stroke-width="0.35">200</text>
<line x1="1581.47" y1="2425.4" x2="1581.47" y2="2431.45" stroke="#000" stroke-width="2.6"/>
<text x="1581.47" y="2449.8" font-family="'DejaVu Sans', 'Liberation Sans', sans-serif" font-size="15.6" fill="#000" text-anchor="middle" stroke="#000" stroke-width="0.35">400</text>
<line x1="1681.8" y1="2425.4" x2="1681.8" y2="2431.45" stroke="#000" stroke-width="2.6"/>
<text x="1681.8" y="2449.8" font-family="'DejaVu Sans', 'Liberation Sans', sans-serif" font-size="15.6" fill="#000" text-anchor="middle" stroke="#000" stroke-width="0.35">600</text>
<line x1="1374.75" y1="2416.4" x2="1380.8" y2="2416.4" stroke="#000" stroke-width="2.6"/>
<text x="1368.3" y="2422.08" font-family="'DejaVu Sans', 'Liberation Sans', sans-serif" font-size="15.6" fill="#000" text-anchor="end" stroke="#000" stroke-width="0.35">1</text>
<line x1="1374.75" y1="2381.5" x2="1380.8" y2="2381.5" stroke="#000" stroke-width="2.6"/>
<text x="1368.3" y="2387.18" font-family="'DejaVu Sans', 'Liberation Sans', sans-serif" font-size="15.6" fill="#000" text-anchor="end" stroke="#000" stroke-width="0.35">2</text>
<text x="1531.3" y="2474.2" font-family="'DejaVu Sans', 'Liberation Sans', sans-serif" font-size="21.2" fill="#000" text-anchor="middle" stroke="#000" stroke-width="0.35">time (days)</text>
<text transform="translate(1319.5,2327.45) rotate(-90)" x="0" y="0" font-family="'DejaVu Sans', 'Liberation Sans', sans-serif" font-size="21.2" stroke="#000" stroke-width="0.35" text-anchor="middle">effector gland</text>
<text transform="translate(1342.5,2327.45) rotate(-90)" x="0" y="0" font-family="'DejaVu Sans', 'Liberation Sans', sans-serif" font-size="21.2" stroke="#000" stroke-width="0.35" text-anchor="middle">(e.g., adrenal)</text>
</g>
<g>
<clipPath id="pin"><rect x="511.2" y="248.8" width="358.8" height="231.2"/></clipPath>
<g clip-path="url(#pin)" fill="none" stroke-linejoin="round">
<path d="M515.2,469.7 L544.4,469.7 L544.4,386.9 L550.3,386.9 L550.3,469.7 L866.0,469.7" stroke="#3A5BA9" stroke-width="3.8" stroke-dasharray="16.6 7.4" stroke-dashoffset="19.66" stroke-linecap="butt"/>
<path d="M515.2,469.7 L544.4,469.7 L544.4,386.9 L632.1,386.9 L632.1,469.7 L719.8,469.7 L719.8,262.9 L807.5,262.9 L807.5,469.7 L866.0,469.7" stroke="#EE8233" stroke-width="4.8" stroke-linecap="square"/>
</g>
<line x1="515.2" y1="250.8" x2="515.2" y2="481.5" stroke="#000" stroke-width="3" stroke-linecap="butt"/>
<line x1="513.7" y1="480" x2="866" y2="480" stroke="#000" stroke-width="3"/>
<line x1="515.2" y1="480" x2="515.2" y2="487" stroke="#000" stroke-width="2.6"/>
<text x="515.2" y="510" font-family="'DejaVu Sans', 'Liberation Sans', sans-serif" font-size="20" fill="#000" text-anchor="middle" stroke="#000" stroke-width="0.35">0</text>
<line x1="632.13" y1="480" x2="632.13" y2="487" stroke="#000" stroke-width="2.6"/>
<text x="632.13" y="510" font-family="'DejaVu Sans', 'Liberation Sans', sans-serif" font-size="20" fill="#000" text-anchor="middle" stroke="#000" stroke-width="0.35">200</text>
<line x1="749.07" y1="480" x2="749.07" y2="487" stroke="#000" stroke-width="2.6"/>
<text x="749.07" y="510" font-family="'DejaVu Sans', 'Liberation Sans', sans-serif" font-size="20" fill="#000" text-anchor="middle" stroke="#000" stroke-width="0.35">400</text>
<line x1="866" y1="480" x2="866" y2="487" stroke="#000" stroke-width="2.6"/>
<text x="866" y="510" font-family="'DejaVu Sans', 'Liberation Sans', sans-serif" font-size="20" fill="#000" text-anchor="middle" stroke="#000" stroke-width="0.35">600</text>
<line x1="508.2" y1="428.3" x2="515.2" y2="428.3" stroke="#000" stroke-width="2.6"/>
<text x="499.2" y="435.58" font-family="'DejaVu Sans', 'Liberation Sans', sans-serif" font-size="20" fill="#000" text-anchor="end" stroke="#000" stroke-width="0.35">2</text>
<line x1="508.2" y1="345.6" x2="515.2" y2="345.6" stroke="#000" stroke-width="2.6"/>
<text x="499.2" y="352.88" font-family="'DejaVu Sans', 'Liberation Sans', sans-serif" font-size="20" fill="#000" text-anchor="end" stroke="#000" stroke-width="0.35">4</text>
<line x1="508.2" y1="262.9" x2="515.2" y2="262.9" stroke="#000" stroke-width="2.6"/>
<text x="499.2" y="270.18" font-family="'DejaVu Sans', 'Liberation Sans', sans-serif" font-size="20" fill="#000" text-anchor="end" stroke="#000" stroke-width="0.35">6</text>
<text x="688.6" y="541.3" font-family="'DejaVu Sans', 'Liberation Sans', sans-serif" font-size="24.7" fill="#000" text-anchor="middle" stroke="#000" stroke-width="0.35">time (days)</text>
<text transform="translate(473.9,365.4) rotate(-90)" x="0" y="0" font-family="'DejaVu Sans', 'Liberation Sans', sans-serif" font-size="24.7" stroke="#000" stroke-width="0.35" text-anchor="middle">input u</text>
</g>
<rect x="3.2" y="3.2" width="1773.6" height="2493.6" rx="35" ry="35" fill="none" stroke="#1F4E9E" stroke-width="6.4"/>
</svg></body></html>
